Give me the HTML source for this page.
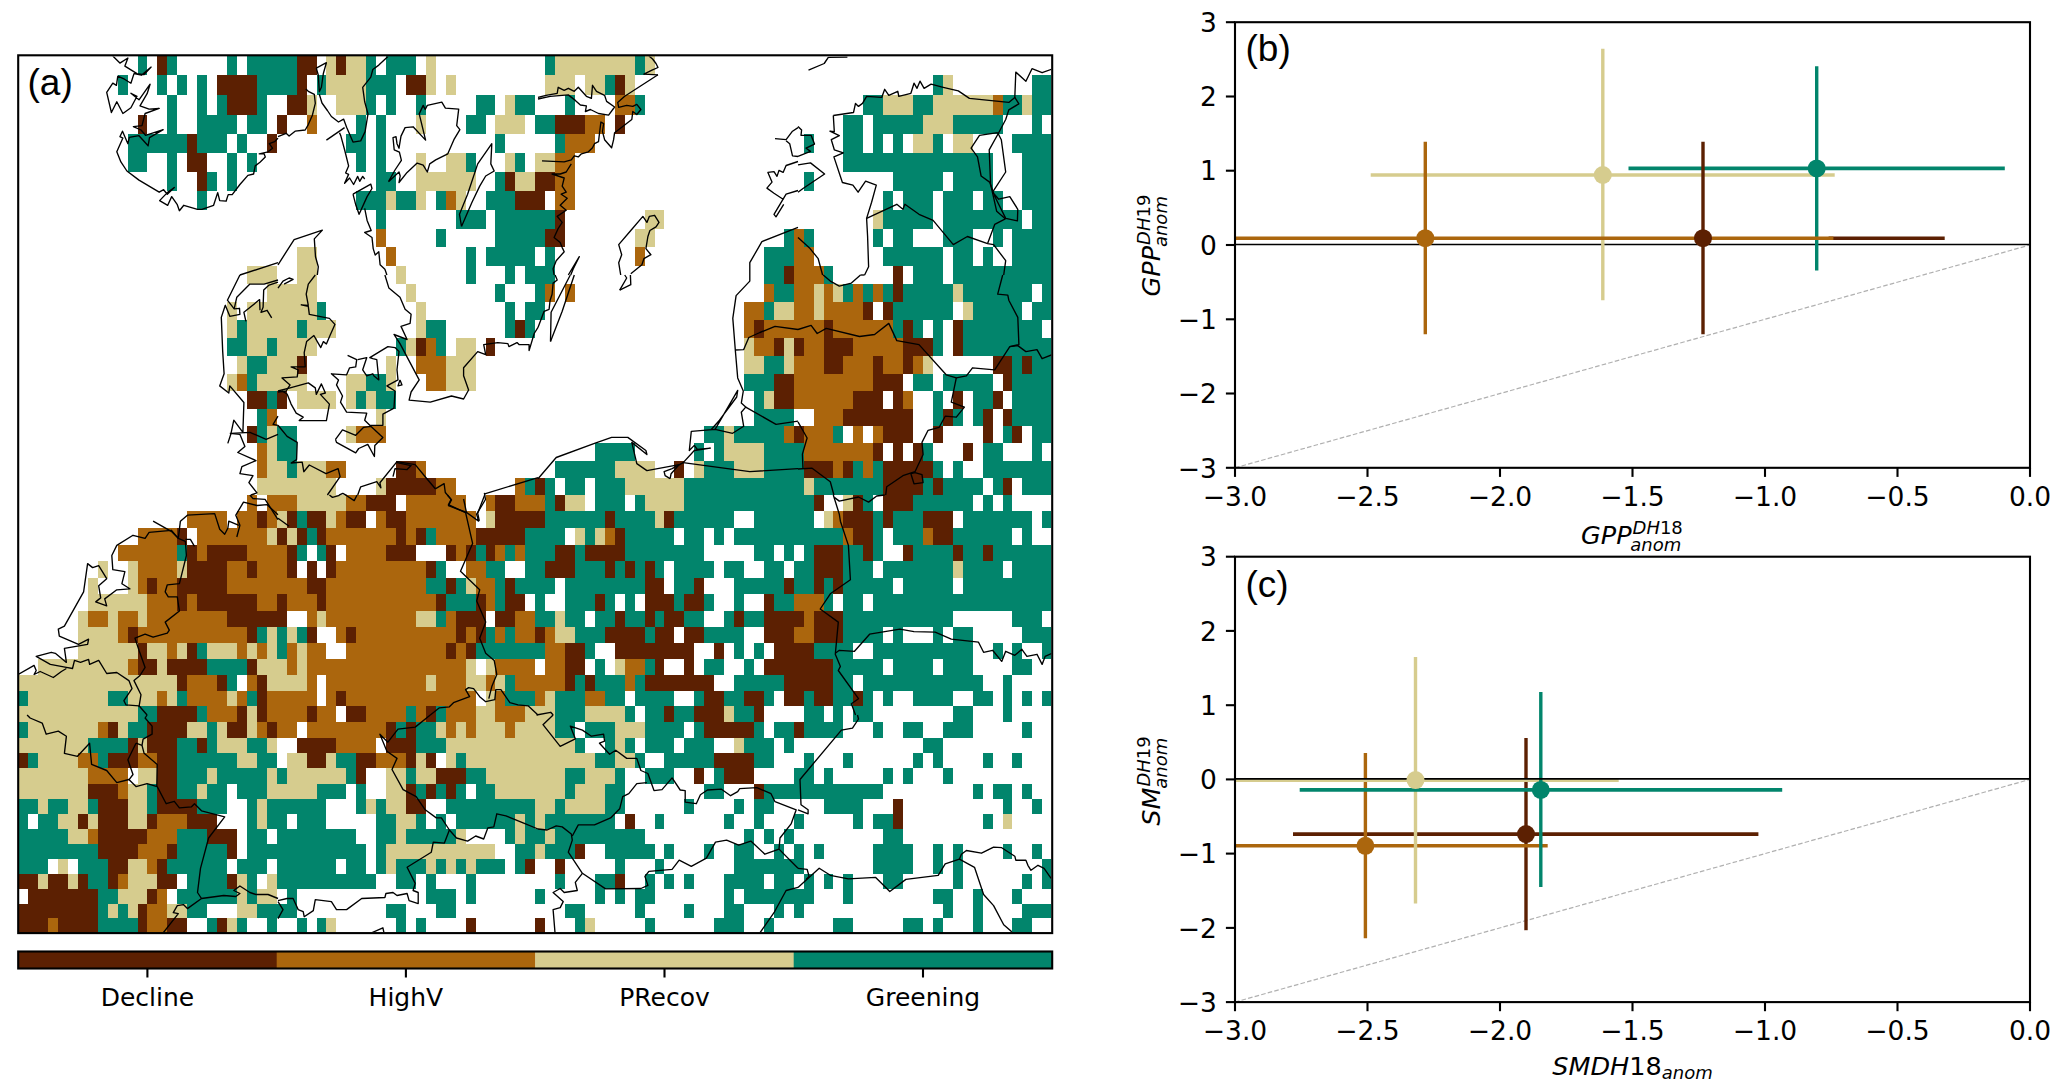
<!DOCTYPE html><html><head><meta charset="utf-8"><style>html,body{margin:0;padding:0;background:#fff;}svg{display:block}text{font-family:"DejaVu Sans",sans-serif;}</style></head><body>
<svg width="2067" height="1091" viewBox="0 0 2067 1091">
<rect width="100%" height="100%" fill="#fff"/>
<g shape-rendering="crispEdges">
<path fill="#5c2002" d="M157.4 55.5H167.3V75.3H157.4ZM296.6 55.5H316.5V75.3H296.6ZM336.3 55.5H346.3V75.3H336.3ZM217.0 75.3H256.8V94.9H217.0ZM296.6 75.3H306.5V94.9H296.6ZM405.9 75.3H425.8V94.9H405.9ZM614.7 75.3H624.7V94.9H614.7ZM227.0 94.9H256.8V114.5H227.0ZM286.6 94.9H306.5V114.5H286.6ZM137.5 114.5H147.4V133.8H137.5ZM276.7 114.5H286.6V133.8H276.7ZM555.1 114.5H584.9V133.8H555.1ZM614.7 114.5H624.7V133.8H614.7ZM187.2 133.8H197.2V153.0H187.2ZM266.8 133.8H276.7V153.0H266.8ZM187.2 153.0H207.1V172.1H187.2ZM197.2 172.1H207.1V191.1H197.2ZM505.4 172.1H515.3V191.1H505.4ZM535.2 172.1H555.1V191.1H535.2ZM515.3 191.1H545.1V209.9H515.3ZM555.1 209.9H565.0V228.6H555.1ZM545.1 228.6H565.0V247.1H545.1ZM783.7 265.6H793.7V283.9H783.7ZM893.1 265.6H903.0V283.9H893.1ZM893.1 283.9H903.0V302.1H893.1ZM863.3 302.1H873.2V320.1H863.3ZM883.2 302.1H893.1V320.1H883.2ZM515.3 320.1H525.2V338.1H515.3ZM753.9 320.1H763.9V338.1H753.9ZM823.5 320.1H833.4V338.1H823.5ZM903.0 320.1H913.0V338.1H903.0ZM952.7 320.1H962.7V338.1H952.7ZM415.9 338.1H425.8V355.9H415.9ZM485.5 338.1H495.4V355.9H485.5ZM773.8 338.1H783.7V355.9H773.8ZM793.7 338.1H803.6V355.9H793.7ZM823.5 338.1H853.3V355.9H823.5ZM903.0 338.1H932.9V355.9H903.0ZM952.7 338.1H962.7V355.9H952.7ZM296.6 355.9H306.5V373.6H296.6ZM823.5 355.9H843.4V373.6H823.5ZM873.2 355.9H883.2V373.6H873.2ZM903.0 355.9H913.0V373.6H903.0ZM992.5 355.9H1012.4V373.6H992.5ZM1022.3 355.9H1032.3V373.6H1022.3ZM773.8 373.6H793.7V391.2H773.8ZM873.2 373.6H903.0V391.2H873.2ZM1002.5 373.6H1012.4V391.2H1002.5ZM246.9 391.2H266.8V408.7H246.9ZM276.7 391.2H286.6V408.7H276.7ZM773.8 391.2H793.7V408.7H773.8ZM853.3 391.2H883.2V408.7H853.3ZM893.1 391.2H903.0V408.7H893.1ZM952.7 391.2H962.7V408.7H952.7ZM992.5 391.2H1002.5V408.7H992.5ZM843.4 408.7H913.0V426.1H843.4ZM942.8 408.7H952.7V426.1H942.8ZM982.6 408.7H992.5V426.1H982.6ZM1002.5 408.7H1012.4V426.1H1002.5ZM246.9 426.1H256.8V443.3H246.9ZM793.7 426.1H803.6V443.3H793.7ZM883.2 426.1H913.0V443.3H883.2ZM932.9 426.1H942.8V443.3H932.9ZM982.6 426.1H992.5V443.3H982.6ZM1012.4 426.1H1022.3V443.3H1012.4ZM873.2 443.3H883.2V460.5H873.2ZM893.1 443.3H903.0V460.5H893.1ZM913.0 443.3H922.9V460.5H913.0ZM962.7 443.3H972.6V460.5H962.7ZM396.0 460.5H415.9V477.6H396.0ZM674.4 460.5H684.3V477.6H674.4ZM803.6 460.5H833.4V477.6H803.6ZM843.4 460.5H853.3V477.6H843.4ZM883.2 460.5H932.9V477.6H883.2ZM386.1 477.6H435.8V494.5H386.1ZM535.2 477.6H545.1V494.5H535.2ZM883.2 477.6H922.9V494.5H883.2ZM932.9 477.6H942.8V494.5H932.9ZM1002.5 477.6H1012.4V494.5H1002.5ZM366.2 494.5H396.0V511.4H366.2ZM495.4 494.5H515.3V511.4H495.4ZM555.1 494.5H565.0V511.4H555.1ZM813.6 494.5H823.5V511.4H813.6ZM853.3 494.5H863.3V511.4H853.3ZM883.2 494.5H913.0V511.4H883.2ZM256.8 511.4H266.8V528.1H256.8ZM286.6 511.4H296.6V528.1H286.6ZM306.5 511.4H326.4V528.1H306.5ZM346.3 511.4H366.2V528.1H346.3ZM386.1 511.4H405.9V528.1H386.1ZM495.4 511.4H545.1V528.1H495.4ZM604.8 511.4H614.7V528.1H604.8ZM664.4 511.4H674.4V528.1H664.4ZM843.4 511.4H873.2V528.1H843.4ZM883.2 511.4H893.1V528.1H883.2ZM922.9 511.4H952.7V528.1H922.9ZM177.3 528.1H187.2V544.8H177.3ZM276.7 528.1H286.6V544.8H276.7ZM296.6 528.1H306.5V544.8H296.6ZM316.5 528.1H326.4V544.8H316.5ZM396.0 528.1H405.9V544.8H396.0ZM415.9 528.1H425.8V544.8H415.9ZM475.5 528.1H525.2V544.8H475.5ZM614.7 528.1H624.7V544.8H614.7ZM853.3 528.1H873.2V544.8H853.3ZM932.9 528.1H952.7V544.8H932.9ZM187.2 544.8H197.2V561.3H187.2ZM207.1 544.8H246.9V561.3H207.1ZM286.6 544.8H296.6V561.3H286.6ZM326.4 544.8H336.3V561.3H326.4ZM386.1 544.8H415.9V561.3H386.1ZM445.7 544.8H455.6V561.3H445.7ZM465.6 544.8H475.5V561.3H465.6ZM485.5 544.8H495.4V561.3H485.5ZM555.1 544.8H575.0V561.3H555.1ZM584.9 544.8H624.7V561.3H584.9ZM813.6 544.8H843.4V561.3H813.6ZM863.3 544.8H873.2V561.3H863.3ZM903.0 544.8H913.0V561.3H903.0ZM952.7 544.8H962.7V561.3H952.7ZM982.6 544.8H992.5V561.3H982.6ZM187.2 561.3H227.0V577.8H187.2ZM246.9 561.3H256.8V577.8H246.9ZM286.6 561.3H296.6V577.8H286.6ZM306.5 561.3H316.5V577.8H306.5ZM326.4 561.3H336.3V577.8H326.4ZM425.8 561.3H435.8V577.8H425.8ZM545.1 561.3H575.0V577.8H545.1ZM604.8 561.3H614.7V577.8H604.8ZM624.7 561.3H634.6V577.8H624.7ZM644.5 561.3H654.5V577.8H644.5ZM813.6 561.3H843.4V577.8H813.6ZM147.4 577.8H157.4V594.2H147.4ZM177.3 577.8H227.0V594.2H177.3ZM306.5 577.8H326.4V594.2H306.5ZM445.7 577.8H455.6V594.2H445.7ZM505.4 577.8H515.3V594.2H505.4ZM644.5 577.8H664.4V594.2H644.5ZM694.3 577.8H704.2V594.2H694.3ZM783.7 577.8H793.7V594.2H783.7ZM813.6 577.8H823.5V594.2H813.6ZM833.4 577.8H843.4V594.2H833.4ZM177.3 594.2H187.2V610.5H177.3ZM197.2 594.2H256.8V610.5H197.2ZM276.7 594.2H286.6V610.5H276.7ZM316.5 594.2H326.4V610.5H316.5ZM435.8 594.2H445.7V610.5H435.8ZM475.5 594.2H485.5V610.5H475.5ZM505.4 594.2H525.2V610.5H505.4ZM594.8 594.2H604.8V610.5H594.8ZM644.5 594.2H674.4V610.5H644.5ZM684.3 594.2H704.2V610.5H684.3ZM763.9 594.2H773.8V610.5H763.9ZM227.0 610.5H286.6V626.6H227.0ZM455.6 610.5H485.5V626.6H455.6ZM495.4 610.5H515.3V626.6H495.4ZM614.7 610.5H624.7V626.6H614.7ZM644.5 610.5H654.5V626.6H644.5ZM664.4 610.5H684.3V626.6H664.4ZM734.0 610.5H744.0V626.6H734.0ZM763.9 610.5H803.6V626.6H763.9ZM813.6 610.5H843.4V626.6H813.6ZM127.6 626.6H137.5V642.7H127.6ZM246.9 626.6H256.8V642.7H246.9ZM306.5 626.6H316.5V642.7H306.5ZM346.3 626.6H356.2V642.7H346.3ZM455.6 626.6H465.6V642.7H455.6ZM475.5 626.6H485.5V642.7H475.5ZM535.2 626.6H545.1V642.7H535.2ZM604.8 626.6H644.5V642.7H604.8ZM654.5 626.6H674.4V642.7H654.5ZM684.3 626.6H704.2V642.7H684.3ZM763.9 626.6H793.7V642.7H763.9ZM813.6 626.6H843.4V642.7H813.6ZM137.5 642.7H147.4V658.7H137.5ZM187.2 642.7H197.2V658.7H187.2ZM445.7 642.7H455.6V658.7H445.7ZM465.6 642.7H475.5V658.7H465.6ZM565.0 642.7H584.9V658.7H565.0ZM614.7 642.7H694.3V658.7H614.7ZM714.1 642.7H724.1V658.7H714.1ZM773.8 642.7H813.6V658.7H773.8ZM137.5 658.7H157.4V674.7H137.5ZM167.3 658.7H207.1V674.7H167.3ZM246.9 658.7H256.8V674.7H246.9ZM565.0 658.7H584.9V674.7H565.0ZM654.5 658.7H664.4V674.7H654.5ZM684.3 658.7H694.3V674.7H684.3ZM763.9 658.7H833.4V674.7H763.9ZM177.3 674.7H187.2V690.5H177.3ZM217.0 674.7H227.0V690.5H217.0ZM256.8 674.7H266.8V690.5H256.8ZM565.0 674.7H575.0V690.5H565.0ZM584.9 674.7H594.8V690.5H584.9ZM644.5 674.7H714.1V690.5H644.5ZM783.7 674.7H833.4V690.5H783.7ZM256.8 690.5H266.8V706.2H256.8ZM336.3 690.5H346.3V706.2H336.3ZM704.2 690.5H724.1V706.2H704.2ZM744.0 690.5H763.9V706.2H744.0ZM783.7 690.5H803.6V706.2H783.7ZM813.6 690.5H833.4V706.2H813.6ZM853.3 690.5H863.3V706.2H853.3ZM157.4 706.2H197.2V721.9H157.4ZM236.9 706.2H246.9V721.9H236.9ZM256.8 706.2H266.8V721.9H256.8ZM306.5 706.2H316.5V721.9H306.5ZM346.3 706.2H366.2V721.9H346.3ZM425.8 706.2H435.8V721.9H425.8ZM664.4 706.2H674.4V721.9H664.4ZM694.3 706.2H724.1V721.9H694.3ZM753.9 706.2H763.9V721.9H753.9ZM107.7 721.9H117.6V737.5H107.7ZM147.4 721.9H187.2V737.5H147.4ZM227.0 721.9H246.9V737.5H227.0ZM266.8 721.9H276.7V737.5H266.8ZM386.1 721.9H396.0V737.5H386.1ZM405.9 721.9H415.9V737.5H405.9ZM704.2 721.9H753.9V737.5H704.2ZM793.7 721.9H803.6V737.5H793.7ZM127.6 737.5H137.5V753.0H127.6ZM147.4 737.5H177.3V753.0H147.4ZM197.2 737.5H207.1V753.0H197.2ZM296.6 737.5H336.3V753.0H296.6ZM386.1 737.5H415.9V753.0H386.1ZM19.0 753.0H28.1V768.4H19.0ZM107.7 753.0H137.5V768.4H107.7ZM157.4 753.0H177.3V768.4H157.4ZM306.5 753.0H326.4V768.4H306.5ZM356.2 753.0H376.1V768.4H356.2ZM405.9 753.0H415.9V768.4H405.9ZM425.8 753.0H435.8V768.4H425.8ZM714.1 753.0H753.9V768.4H714.1ZM157.4 768.4H177.3V783.7H157.4ZM356.2 768.4H366.2V783.7H356.2ZM435.8 768.4H465.6V783.7H435.8ZM694.3 768.4H704.2V783.7H694.3ZM724.1 768.4H753.9V783.7H724.1ZM87.8 783.7H117.6V799.0H87.8ZM157.4 783.7H177.3V799.0H157.4ZM405.9 783.7H415.9V799.0H405.9ZM425.8 783.7H435.8V799.0H425.8ZM445.7 783.7H455.6V799.0H445.7ZM753.9 783.7H763.9V799.0H753.9ZM97.7 799.0H127.6V814.2H97.7ZM157.4 799.0H197.2V814.2H157.4ZM405.9 799.0H425.8V814.2H405.9ZM893.1 799.0H903.0V814.2H893.1ZM77.9 814.2H87.8V829.3H77.9ZM97.7 814.2H127.6V829.3H97.7ZM147.4 814.2H157.4V829.3H147.4ZM187.2 814.2H217.0V829.3H187.2ZM624.7 814.2H634.6V829.3H624.7ZM893.1 814.2H903.0V829.3H893.1ZM97.7 829.3H147.4V844.3H97.7ZM207.1 829.3H236.9V844.3H207.1ZM97.7 844.3H137.5V859.3H97.7ZM167.3 844.3H177.3V859.3H167.3ZM227.0 844.3H236.9V859.3H227.0ZM575.0 844.3H584.9V859.3H575.0ZM107.7 859.3H127.6V874.2H107.7ZM157.4 859.3H167.3V874.2H157.4ZM525.2 859.3H535.2V874.2H525.2ZM555.1 859.3H565.0V874.2H555.1ZM19.0 874.2H38.1V889.0H19.0ZM48.0 874.2H67.9V889.0H48.0ZM77.9 874.2H87.8V889.0H77.9ZM107.7 874.2H117.6V889.0H107.7ZM157.4 874.2H177.3V889.0H157.4ZM227.0 874.2H236.9V889.0H227.0ZM614.7 874.2H624.7V889.0H614.7ZM28.1 889.0H97.7V903.7H28.1ZM147.4 889.0H157.4V903.7H147.4ZM19.0 903.7H97.7V918.4H19.0ZM137.5 903.7H147.4V918.4H137.5ZM19.0 918.4H48.0V933.0H19.0ZM58.0 918.4H97.7V933.0H58.0ZM137.5 918.4H147.4V933.0H137.5ZM167.3 918.4H187.2V933.0H167.3ZM217.0 918.4H227.0V933.0H217.0ZM465.6 918.4H475.5V933.0H465.6ZM535.2 918.4H545.1V933.0H535.2Z"/>
<path fill="#ab660d" d="M614.7 94.9H634.6V114.5H614.7ZM992.5 94.9H1002.5V114.5H992.5ZM306.5 114.5H316.5V133.8H306.5ZM584.9 114.5H604.8V133.8H584.9ZM565.0 133.8H594.8V153.0H565.0ZM555.1 153.0H575.0V172.1H555.1ZM555.1 172.1H575.0V191.1H555.1ZM445.7 191.1H455.6V209.9H445.7ZM555.1 191.1H575.0V209.9H555.1ZM376.1 228.6H386.1V247.1H376.1ZM793.7 228.6H803.6V247.1H793.7ZM386.1 247.1H396.0V265.6H386.1ZM634.6 247.1H644.5V265.6H634.6ZM793.7 247.1H813.6V265.6H793.7ZM793.7 265.6H823.5V283.9H793.7ZM545.1 283.9H555.1V302.1H545.1ZM565.0 283.9H575.0V302.1H565.0ZM763.9 283.9H773.8V302.1H763.9ZM793.7 283.9H813.6V302.1H793.7ZM823.5 283.9H833.4V302.1H823.5ZM853.3 283.9H863.3V302.1H853.3ZM873.2 283.9H883.2V302.1H873.2ZM744.0 302.1H763.9V320.1H744.0ZM793.7 302.1H813.6V320.1H793.7ZM823.5 302.1H863.3V320.1H823.5ZM744.0 320.1H753.9V338.1H744.0ZM763.9 320.1H823.5V338.1H763.9ZM833.4 320.1H893.1V338.1H833.4ZM425.8 338.1H435.8V355.9H425.8ZM753.9 338.1H773.8V355.9H753.9ZM803.6 338.1H823.5V355.9H803.6ZM853.3 338.1H903.0V355.9H853.3ZM415.9 355.9H445.7V373.6H415.9ZM793.7 355.9H823.5V373.6H793.7ZM843.4 355.9H873.2V373.6H843.4ZM883.2 355.9H903.0V373.6H883.2ZM913.0 355.9H922.9V373.6H913.0ZM236.9 373.6H246.9V391.2H236.9ZM425.8 373.6H445.7V391.2H425.8ZM793.7 373.6H873.2V391.2H793.7ZM793.7 391.2H853.3V408.7H793.7ZM903.0 391.2H913.0V408.7H903.0ZM266.8 408.7H276.7V426.1H266.8ZM813.6 408.7H843.4V426.1H813.6ZM356.2 426.1H386.1V443.3H356.2ZM783.7 426.1H793.7V443.3H783.7ZM803.6 426.1H833.4V443.3H803.6ZM853.3 426.1H863.3V443.3H853.3ZM873.2 426.1H883.2V443.3H873.2ZM256.8 443.3H266.8V460.5H256.8ZM803.6 443.3H873.2V460.5H803.6ZM256.8 460.5H266.8V477.6H256.8ZM326.4 460.5H346.3V477.6H326.4ZM415.9 460.5H425.8V477.6H415.9ZM833.4 460.5H843.4V477.6H833.4ZM863.3 460.5H873.2V477.6H863.3ZM435.8 477.6H455.6V494.5H435.8ZM515.3 477.6H525.2V494.5H515.3ZM246.9 494.5H256.8V511.4H246.9ZM266.8 494.5H296.6V511.4H266.8ZM346.3 494.5H366.2V511.4H346.3ZM405.9 494.5H465.6V511.4H405.9ZM485.5 494.5H495.4V511.4H485.5ZM515.3 494.5H545.1V511.4H515.3ZM187.2 511.4H227.0V528.1H187.2ZM236.9 511.4H256.8V528.1H236.9ZM266.8 511.4H276.7V528.1H266.8ZM336.3 511.4H346.3V528.1H336.3ZM376.1 511.4H386.1V528.1H376.1ZM405.9 511.4H475.5V528.1H405.9ZM833.4 511.4H843.4V528.1H833.4ZM137.5 528.1H177.3V544.8H137.5ZM197.2 528.1H266.8V544.8H197.2ZM326.4 528.1H396.0V544.8H326.4ZM405.9 528.1H415.9V544.8H405.9ZM435.8 528.1H475.5V544.8H435.8ZM604.8 528.1H614.7V544.8H604.8ZM843.4 528.1H853.3V544.8H843.4ZM922.9 528.1H932.9V544.8H922.9ZM117.6 544.8H177.3V561.3H117.6ZM197.2 544.8H207.1V561.3H197.2ZM246.9 544.8H286.6V561.3H246.9ZM346.3 544.8H386.1V561.3H346.3ZM455.6 544.8H465.6V561.3H455.6ZM495.4 544.8H505.4V561.3H495.4ZM515.3 544.8H525.2V561.3H515.3ZM137.5 561.3H177.3V577.8H137.5ZM227.0 561.3H246.9V577.8H227.0ZM256.8 561.3H286.6V577.8H256.8ZM336.3 561.3H425.8V577.8H336.3ZM465.6 561.3H485.5V577.8H465.6ZM137.5 577.8H147.4V594.2H137.5ZM157.4 577.8H177.3V594.2H157.4ZM227.0 577.8H306.5V594.2H227.0ZM326.4 577.8H425.8V594.2H326.4ZM475.5 577.8H495.4V594.2H475.5ZM147.4 594.2H177.3V610.5H147.4ZM187.2 594.2H197.2V610.5H187.2ZM256.8 594.2H276.7V610.5H256.8ZM286.6 594.2H316.5V610.5H286.6ZM326.4 594.2H435.8V610.5H326.4ZM485.5 594.2H495.4V610.5H485.5ZM793.7 594.2H823.5V610.5H793.7ZM87.8 610.5H107.7V626.6H87.8ZM117.6 610.5H137.5V626.6H117.6ZM147.4 610.5H227.0V626.6H147.4ZM306.5 610.5H316.5V626.6H306.5ZM326.4 610.5H415.9V626.6H326.4ZM445.7 610.5H455.6V626.6H445.7ZM515.3 610.5H535.2V626.6H515.3ZM803.6 610.5H813.6V626.6H803.6ZM117.6 626.6H127.6V642.7H117.6ZM137.5 626.6H246.9V642.7H137.5ZM336.3 626.6H346.3V642.7H336.3ZM356.2 626.6H455.6V642.7H356.2ZM465.6 626.6H475.5V642.7H465.6ZM495.4 626.6H505.4V642.7H495.4ZM515.3 626.6H535.2V642.7H515.3ZM545.1 626.6H555.1V642.7H545.1ZM793.7 626.6H813.6V642.7H793.7ZM167.3 642.7H177.3V658.7H167.3ZM236.9 642.7H246.9V658.7H236.9ZM256.8 642.7H266.8V658.7H256.8ZM286.6 642.7H296.6V658.7H286.6ZM306.5 642.7H326.4V658.7H306.5ZM346.3 642.7H445.7V658.7H346.3ZM455.6 642.7H465.6V658.7H455.6ZM545.1 642.7H565.0V658.7H545.1ZM127.6 658.7H137.5V674.7H127.6ZM286.6 658.7H296.6V674.7H286.6ZM306.5 658.7H465.6V674.7H306.5ZM495.4 658.7H535.2V674.7H495.4ZM545.1 658.7H565.0V674.7H545.1ZM624.7 658.7H644.5V674.7H624.7ZM187.2 674.7H217.0V690.5H187.2ZM246.9 674.7H256.8V690.5H246.9ZM306.5 674.7H316.5V690.5H306.5ZM326.4 674.7H425.8V690.5H326.4ZM435.8 674.7H465.6V690.5H435.8ZM485.5 674.7H495.4V690.5H485.5ZM515.3 674.7H565.0V690.5H515.3ZM624.7 674.7H634.6V690.5H624.7ZM157.4 690.5H167.3V706.2H157.4ZM187.2 690.5H227.0V706.2H187.2ZM236.9 690.5H246.9V706.2H236.9ZM266.8 690.5H316.5V706.2H266.8ZM326.4 690.5H336.3V706.2H326.4ZM346.3 690.5H475.5V706.2H346.3ZM495.4 690.5H505.4V706.2H495.4ZM535.2 690.5H545.1V706.2H535.2ZM584.9 690.5H604.8V706.2H584.9ZM207.1 706.2H236.9V721.9H207.1ZM266.8 706.2H306.5V721.9H266.8ZM316.5 706.2H336.3V721.9H316.5ZM366.2 706.2H405.9V721.9H366.2ZM415.9 706.2H425.8V721.9H415.9ZM445.7 706.2H475.5V721.9H445.7ZM495.4 706.2H525.2V721.9H495.4ZM97.7 721.9H107.7V737.5H97.7ZM256.8 721.9H266.8V737.5H256.8ZM276.7 721.9H296.6V737.5H276.7ZM306.5 721.9H386.1V737.5H306.5ZM445.7 721.9H455.6V737.5H445.7ZM465.6 721.9H475.5V737.5H465.6ZM505.4 721.9H515.3V737.5H505.4ZM336.3 737.5H376.1V753.0H336.3ZM77.9 753.0H97.7V768.4H77.9ZM137.5 753.0H157.4V768.4H137.5ZM376.1 753.0H405.9V768.4H376.1ZM87.8 768.4H127.6V783.7H87.8ZM117.6 783.7H127.6V799.0H117.6ZM157.4 814.2H187.2V829.3H157.4ZM87.8 829.3H97.7V844.3H87.8ZM147.4 829.3H177.3V844.3H147.4ZM137.5 844.3H167.3V859.3H137.5ZM147.4 859.3H157.4V874.2H147.4ZM117.6 874.2H127.6V889.0H117.6ZM157.4 889.0H167.3V903.7H157.4ZM147.4 903.7H167.3V918.4H147.4ZM48.0 918.4H58.0V933.0H48.0ZM147.4 918.4H167.3V933.0H147.4Z"/>
<path fill="#d6cc8e" d="M326.4 55.5H336.3V75.3H326.4ZM346.3 55.5H366.2V75.3H346.3ZM425.8 55.5H435.8V75.3H425.8ZM555.1 55.5H634.6V75.3H555.1ZM644.5 55.5H654.5V75.3H644.5ZM326.4 75.3H366.2V94.9H326.4ZM425.8 75.3H435.8V94.9H425.8ZM445.7 75.3H455.6V94.9H445.7ZM545.1 75.3H575.0V94.9H545.1ZM584.9 75.3H604.8V94.9H584.9ZM624.7 75.3H634.6V94.9H624.7ZM942.8 75.3H952.7V94.9H942.8ZM306.5 94.9H316.5V114.5H306.5ZM336.3 94.9H366.2V114.5H336.3ZM505.4 94.9H515.3V114.5H505.4ZM883.2 94.9H913.0V114.5H883.2ZM932.9 94.9H992.5V114.5H932.9ZM1022.3 94.9H1032.3V114.5H1022.3ZM415.9 114.5H425.8V133.8H415.9ZM495.4 114.5H525.2V133.8H495.4ZM922.9 114.5H952.7V133.8H922.9ZM913.0 133.8H932.9V153.0H913.0ZM952.7 133.8H972.6V153.0H952.7ZM415.9 153.0H425.8V172.1H415.9ZM445.7 153.0H465.6V172.1H445.7ZM505.4 153.0H515.3V172.1H505.4ZM535.2 153.0H555.1V172.1H535.2ZM415.9 172.1H475.5V191.1H415.9ZM515.3 172.1H535.2V191.1H515.3ZM386.1 191.1H396.0V209.9H386.1ZM415.9 191.1H425.8V209.9H415.9ZM455.6 191.1H465.6V209.9H455.6ZM644.5 209.9H664.4V228.6H644.5ZM873.2 209.9H883.2V228.6H873.2ZM634.6 228.6H654.5V247.1H634.6ZM296.6 247.1H316.5V265.6H296.6ZM246.9 265.6H276.7V283.9H246.9ZM296.6 265.6H316.5V283.9H296.6ZM396.0 265.6H405.9V283.9H396.0ZM266.8 283.9H316.5V302.1H266.8ZM405.9 283.9H415.9V302.1H405.9ZM813.6 283.9H823.5V302.1H813.6ZM833.4 283.9H843.4V302.1H833.4ZM952.7 283.9H962.7V302.1H952.7ZM227.0 302.1H236.9V320.1H227.0ZM246.9 302.1H316.5V320.1H246.9ZM415.9 302.1H425.8V320.1H415.9ZM773.8 302.1H793.7V320.1H773.8ZM813.6 302.1H823.5V320.1H813.6ZM962.7 302.1H972.6V320.1H962.7ZM227.0 320.1H236.9V338.1H227.0ZM246.9 320.1H296.6V338.1H246.9ZM306.5 320.1H336.3V338.1H306.5ZM415.9 320.1H425.8V338.1H415.9ZM246.9 338.1H266.8V355.9H246.9ZM276.7 338.1H316.5V355.9H276.7ZM405.9 338.1H415.9V355.9H405.9ZM455.6 338.1H475.5V355.9H455.6ZM744.0 338.1H753.9V355.9H744.0ZM783.7 338.1H793.7V355.9H783.7ZM236.9 355.9H246.9V373.6H236.9ZM266.8 355.9H296.6V373.6H266.8ZM386.1 355.9H396.0V373.6H386.1ZM445.7 355.9H475.5V373.6H445.7ZM744.0 355.9H763.9V373.6H744.0ZM783.7 355.9H793.7V373.6H783.7ZM922.9 355.9H932.9V373.6H922.9ZM227.0 373.6H236.9V391.2H227.0ZM256.8 373.6H306.5V391.2H256.8ZM346.3 373.6H366.2V391.2H346.3ZM386.1 373.6H396.0V391.2H386.1ZM445.7 373.6H475.5V391.2H445.7ZM296.6 391.2H336.3V408.7H296.6ZM346.3 391.2H356.2V408.7H346.3ZM366.2 391.2H376.1V408.7H366.2ZM763.9 391.2H773.8V408.7H763.9ZM376.1 408.7H386.1V426.1H376.1ZM266.8 426.1H276.7V443.3H266.8ZM346.3 426.1H356.2V443.3H346.3ZM724.1 426.1H734.0V443.3H724.1ZM266.8 443.3H276.7V460.5H266.8ZM724.1 443.3H763.9V460.5H724.1ZM266.8 460.5H286.6V477.6H266.8ZM296.6 460.5H326.4V477.6H296.6ZM614.7 460.5H654.5V477.6H614.7ZM694.3 460.5H704.2V477.6H694.3ZM734.0 460.5H763.9V477.6H734.0ZM256.8 477.6H336.3V494.5H256.8ZM376.1 477.6H386.1V494.5H376.1ZM624.7 477.6H684.3V494.5H624.7ZM803.6 477.6H813.6V494.5H803.6ZM296.6 494.5H346.3V511.4H296.6ZM565.0 494.5H584.9V511.4H565.0ZM644.5 494.5H684.3V511.4H644.5ZM843.4 494.5H853.3V511.4H843.4ZM276.7 511.4H286.6V528.1H276.7ZM326.4 511.4H336.3V528.1H326.4ZM485.5 511.4H495.4V528.1H485.5ZM654.5 511.4H664.4V528.1H654.5ZM823.5 511.4H833.4V528.1H823.5ZM266.8 528.1H276.7V544.8H266.8ZM286.6 528.1H296.6V544.8H286.6ZM575.0 528.1H584.9V544.8H575.0ZM594.8 528.1H604.8V544.8H594.8ZM97.7 561.3H107.7V577.8H97.7ZM127.6 561.3H137.5V577.8H127.6ZM177.3 561.3H187.2V577.8H177.3ZM952.7 561.3H962.7V577.8H952.7ZM87.8 577.8H97.7V594.2H87.8ZM127.6 577.8H137.5V594.2H127.6ZM465.6 577.8H475.5V594.2H465.6ZM87.8 594.2H147.4V610.5H87.8ZM77.9 610.5H87.8V626.6H77.9ZM107.7 610.5H117.6V626.6H107.7ZM137.5 610.5H147.4V626.6H137.5ZM316.5 610.5H326.4V626.6H316.5ZM415.9 610.5H435.8V626.6H415.9ZM555.1 610.5H565.0V626.6H555.1ZM77.9 626.6H117.6V642.7H77.9ZM266.8 626.6H276.7V642.7H266.8ZM286.6 626.6H296.6V642.7H286.6ZM555.1 626.6H575.0V642.7H555.1ZM77.9 642.7H137.5V658.7H77.9ZM147.4 642.7H167.3V658.7H147.4ZM177.3 642.7H187.2V658.7H177.3ZM207.1 642.7H236.9V658.7H207.1ZM246.9 642.7H256.8V658.7H246.9ZM266.8 642.7H276.7V658.7H266.8ZM296.6 642.7H306.5V658.7H296.6ZM38.1 658.7H127.6V674.7H38.1ZM157.4 658.7H167.3V674.7H157.4ZM256.8 658.7H286.6V674.7H256.8ZM296.6 658.7H306.5V674.7H296.6ZM465.6 658.7H475.5V674.7H465.6ZM485.5 658.7H495.4V674.7H485.5ZM614.7 658.7H624.7V674.7H614.7ZM19.0 674.7H177.3V690.5H19.0ZM266.8 674.7H306.5V690.5H266.8ZM425.8 674.7H435.8V690.5H425.8ZM465.6 674.7H485.5V690.5H465.6ZM495.4 674.7H505.4V690.5H495.4ZM28.1 690.5H107.7V706.2H28.1ZM127.6 690.5H157.4V706.2H127.6ZM167.3 690.5H177.3V706.2H167.3ZM227.0 690.5H236.9V706.2H227.0ZM485.5 690.5H495.4V706.2H485.5ZM545.1 690.5H555.1V706.2H545.1ZM19.0 706.2H137.5V721.9H19.0ZM246.9 706.2H256.8V721.9H246.9ZM475.5 706.2H495.4V721.9H475.5ZM525.2 706.2H555.1V721.9H525.2ZM584.9 706.2H624.7V721.9H584.9ZM724.1 706.2H734.0V721.9H724.1ZM28.1 721.9H97.7V737.5H28.1ZM117.6 721.9H127.6V737.5H117.6ZM187.2 721.9H207.1V737.5H187.2ZM217.0 721.9H227.0V737.5H217.0ZM246.9 721.9H256.8V737.5H246.9ZM435.8 721.9H445.7V737.5H435.8ZM455.6 721.9H465.6V737.5H455.6ZM475.5 721.9H505.4V737.5H475.5ZM515.3 721.9H555.1V737.5H515.3ZM614.7 721.9H644.5V737.5H614.7ZM19.0 737.5H87.8V753.0H19.0ZM137.5 737.5H147.4V753.0H137.5ZM217.0 737.5H246.9V753.0H217.0ZM266.8 737.5H276.7V753.0H266.8ZM445.7 737.5H575.0V753.0H445.7ZM614.7 737.5H624.7V753.0H614.7ZM734.0 737.5H744.0V753.0H734.0ZM38.1 753.0H77.9V768.4H38.1ZM236.9 753.0H256.8V768.4H236.9ZM286.6 753.0H306.5V768.4H286.6ZM326.4 753.0H336.3V768.4H326.4ZM415.9 753.0H425.8V768.4H415.9ZM445.7 753.0H455.6V768.4H445.7ZM465.6 753.0H594.8V768.4H465.6ZM614.7 753.0H634.6V768.4H614.7ZM19.0 768.4H87.8V783.7H19.0ZM137.5 768.4H157.4V783.7H137.5ZM207.1 768.4H217.0V783.7H207.1ZM266.8 768.4H276.7V783.7H266.8ZM286.6 768.4H346.3V783.7H286.6ZM386.1 768.4H405.9V783.7H386.1ZM415.9 768.4H435.8V783.7H415.9ZM485.5 768.4H565.0V783.7H485.5ZM584.9 768.4H614.7V783.7H584.9ZM19.0 783.7H87.8V799.0H19.0ZM127.6 783.7H147.4V799.0H127.6ZM197.2 783.7H207.1V799.0H197.2ZM266.8 783.7H316.5V799.0H266.8ZM386.1 783.7H405.9V799.0H386.1ZM495.4 783.7H565.0V799.0H495.4ZM575.0 783.7H604.8V799.0H575.0ZM38.1 799.0H48.0V814.2H38.1ZM67.9 799.0H87.8V814.2H67.9ZM127.6 799.0H147.4V814.2H127.6ZM256.8 799.0H266.8V814.2H256.8ZM366.2 799.0H376.1V814.2H366.2ZM386.1 799.0H405.9V814.2H386.1ZM535.2 799.0H555.1V814.2H535.2ZM565.0 799.0H604.8V814.2H565.0ZM58.0 814.2H77.9V829.3H58.0ZM87.8 814.2H97.7V829.3H87.8ZM127.6 814.2H147.4V829.3H127.6ZM256.8 814.2H266.8V829.3H256.8ZM396.0 814.2H415.9V829.3H396.0ZM515.3 814.2H525.2V829.3H515.3ZM535.2 814.2H545.1V829.3H535.2ZM1002.5 814.2H1012.4V829.3H1002.5ZM67.9 829.3H87.8V844.3H67.9ZM396.0 829.3H405.9V844.3H396.0ZM455.6 829.3H465.6V844.3H455.6ZM515.3 829.3H525.2V844.3H515.3ZM545.1 829.3H555.1V844.3H545.1ZM386.1 844.3H495.4V859.3H386.1ZM535.2 844.3H545.1V859.3H535.2ZM58.0 859.3H67.9V874.2H58.0ZM127.6 859.3H147.4V874.2H127.6ZM386.1 859.3H396.0V874.2H386.1ZM425.8 859.3H435.8V874.2H425.8ZM445.7 859.3H455.6V874.2H445.7ZM465.6 859.3H475.5V874.2H465.6ZM38.1 874.2H48.0V889.0H38.1ZM67.9 874.2H77.9V889.0H67.9ZM127.6 874.2H157.4V889.0H127.6ZM236.9 874.2H246.9V889.0H236.9ZM266.8 874.2H276.7V889.0H266.8ZM117.6 889.0H147.4V903.7H117.6ZM236.9 889.0H246.9V903.7H236.9ZM256.8 889.0H276.7V903.7H256.8ZM107.7 903.7H117.6V918.4H107.7ZM127.6 903.7H137.5V918.4H127.6ZM167.3 903.7H187.2V918.4H167.3ZM236.9 903.7H256.8V918.4H236.9ZM227.0 918.4H236.9V933.0H227.0ZM326.4 918.4H336.3V933.0H326.4ZM584.9 918.4H594.8V933.0H584.9Z"/>
<path fill="#02856c" d="M137.5 55.5H147.4V75.3H137.5ZM167.3 55.5H177.3V75.3H167.3ZM227.0 55.5H236.9V75.3H227.0ZM246.9 55.5H296.6V75.3H246.9ZM366.2 55.5H376.1V75.3H366.2ZM386.1 55.5H415.9V75.3H386.1ZM545.1 55.5H555.1V75.3H545.1ZM634.6 55.5H644.5V75.3H634.6ZM117.6 75.3H127.6V94.9H117.6ZM157.4 75.3H167.3V94.9H157.4ZM177.3 75.3H187.2V94.9H177.3ZM197.2 75.3H207.1V94.9H197.2ZM256.8 75.3H296.6V94.9H256.8ZM316.5 75.3H326.4V94.9H316.5ZM366.2 75.3H396.0V94.9H366.2ZM604.8 75.3H614.7V94.9H604.8ZM932.9 75.3H942.8V94.9H932.9ZM1032.3 75.3H1051.2V94.9H1032.3ZM167.3 94.9H177.3V114.5H167.3ZM197.2 94.9H207.1V114.5H197.2ZM217.0 94.9H227.0V114.5H217.0ZM256.8 94.9H266.8V114.5H256.8ZM366.2 94.9H376.1V114.5H366.2ZM386.1 94.9H396.0V114.5H386.1ZM415.9 94.9H425.8V114.5H415.9ZM475.5 94.9H495.4V114.5H475.5ZM515.3 94.9H535.2V114.5H515.3ZM565.0 94.9H575.0V114.5H565.0ZM634.6 94.9H644.5V114.5H634.6ZM863.3 94.9H883.2V114.5H863.3ZM913.0 94.9H932.9V114.5H913.0ZM1002.5 94.9H1022.3V114.5H1002.5ZM1032.3 94.9H1051.2V114.5H1032.3ZM167.3 114.5H177.3V133.8H167.3ZM197.2 114.5H236.9V133.8H197.2ZM246.9 114.5H266.8V133.8H246.9ZM356.2 114.5H366.2V133.8H356.2ZM376.1 114.5H386.1V133.8H376.1ZM465.6 114.5H485.5V133.8H465.6ZM535.2 114.5H555.1V133.8H535.2ZM843.4 114.5H863.3V133.8H843.4ZM873.2 114.5H922.9V133.8H873.2ZM952.7 114.5H1002.5V133.8H952.7ZM1032.3 114.5H1042.2V133.8H1032.3ZM127.6 133.8H187.2V153.0H127.6ZM197.2 133.8H227.0V153.0H197.2ZM236.9 133.8H246.9V153.0H236.9ZM346.3 133.8H366.2V153.0H346.3ZM376.1 133.8H386.1V153.0H376.1ZM495.4 133.8H505.4V153.0H495.4ZM555.1 133.8H565.0V153.0H555.1ZM803.6 133.8H813.6V153.0H803.6ZM843.4 133.8H863.3V153.0H843.4ZM873.2 133.8H883.2V153.0H873.2ZM893.1 133.8H903.0V153.0H893.1ZM932.9 133.8H942.8V153.0H932.9ZM1012.4 133.8H1051.2V153.0H1012.4ZM127.6 153.0H147.4V172.1H127.6ZM167.3 153.0H177.3V172.1H167.3ZM227.0 153.0H236.9V172.1H227.0ZM246.9 153.0H256.8V172.1H246.9ZM356.2 153.0H366.2V172.1H356.2ZM376.1 153.0H386.1V172.1H376.1ZM465.6 153.0H475.5V172.1H465.6ZM515.3 153.0H525.2V172.1H515.3ZM843.4 153.0H992.5V172.1H843.4ZM1022.3 153.0H1051.2V172.1H1022.3ZM167.3 172.1H177.3V191.1H167.3ZM207.1 172.1H217.0V191.1H207.1ZM227.0 172.1H236.9V191.1H227.0ZM376.1 172.1H396.0V191.1H376.1ZM495.4 172.1H505.4V191.1H495.4ZM803.6 172.1H813.6V191.1H803.6ZM893.1 172.1H942.8V191.1H893.1ZM952.7 172.1H992.5V191.1H952.7ZM1022.3 172.1H1051.2V191.1H1022.3ZM197.2 191.1H207.1V209.9H197.2ZM356.2 191.1H386.1V209.9H356.2ZM396.0 191.1H415.9V209.9H396.0ZM435.8 191.1H445.7V209.9H435.8ZM485.5 191.1H515.3V209.9H485.5ZM883.2 191.1H893.1V209.9H883.2ZM903.0 191.1H932.9V209.9H903.0ZM942.8 191.1H972.6V209.9H942.8ZM982.6 191.1H1002.5V209.9H982.6ZM1022.3 191.1H1051.2V209.9H1022.3ZM376.1 209.9H386.1V228.6H376.1ZM455.6 209.9H485.5V228.6H455.6ZM495.4 209.9H555.1V228.6H495.4ZM883.2 209.9H932.9V228.6H883.2ZM942.8 209.9H1022.3V228.6H942.8ZM1032.3 209.9H1051.2V228.6H1032.3ZM435.8 228.6H445.7V247.1H435.8ZM495.4 228.6H545.1V247.1H495.4ZM783.7 228.6H793.7V247.1H783.7ZM803.6 228.6H813.6V247.1H803.6ZM873.2 228.6H883.2V247.1H873.2ZM893.1 228.6H913.0V247.1H893.1ZM942.8 228.6H972.6V247.1H942.8ZM992.5 228.6H1002.5V247.1H992.5ZM1012.4 228.6H1051.2V247.1H1012.4ZM465.6 247.1H475.5V265.6H465.6ZM485.5 247.1H535.2V265.6H485.5ZM545.1 247.1H555.1V265.6H545.1ZM763.9 247.1H793.7V265.6H763.9ZM883.2 247.1H942.8V265.6H883.2ZM952.7 247.1H972.6V265.6H952.7ZM982.6 247.1H992.5V265.6H982.6ZM1012.4 247.1H1051.2V265.6H1012.4ZM465.6 265.6H475.5V283.9H465.6ZM505.4 265.6H515.3V283.9H505.4ZM525.2 265.6H555.1V283.9H525.2ZM763.9 265.6H783.7V283.9H763.9ZM823.5 265.6H833.4V283.9H823.5ZM913.0 265.6H942.8V283.9H913.0ZM952.7 265.6H1051.2V283.9H952.7ZM495.4 283.9H505.4V302.1H495.4ZM535.2 283.9H545.1V302.1H535.2ZM773.8 283.9H793.7V302.1H773.8ZM843.4 283.9H853.3V302.1H843.4ZM863.3 283.9H873.2V302.1H863.3ZM883.2 283.9H893.1V302.1H883.2ZM903.0 283.9H952.7V302.1H903.0ZM962.7 283.9H1032.3V302.1H962.7ZM1042.2 283.9H1051.2V302.1H1042.2ZM316.5 302.1H326.4V320.1H316.5ZM505.4 302.1H515.3V320.1H505.4ZM525.2 302.1H545.1V320.1H525.2ZM763.9 302.1H773.8V320.1H763.9ZM893.1 302.1H952.7V320.1H893.1ZM972.6 302.1H1022.3V320.1H972.6ZM1032.3 302.1H1051.2V320.1H1032.3ZM236.9 320.1H246.9V338.1H236.9ZM296.6 320.1H306.5V338.1H296.6ZM425.8 320.1H445.7V338.1H425.8ZM505.4 320.1H515.3V338.1H505.4ZM525.2 320.1H535.2V338.1H525.2ZM893.1 320.1H903.0V338.1H893.1ZM913.0 320.1H922.9V338.1H913.0ZM932.9 320.1H942.8V338.1H932.9ZM962.7 320.1H1042.2V338.1H962.7ZM227.0 338.1H246.9V355.9H227.0ZM266.8 338.1H276.7V355.9H266.8ZM396.0 338.1H405.9V355.9H396.0ZM435.8 338.1H445.7V355.9H435.8ZM932.9 338.1H942.8V355.9H932.9ZM962.7 338.1H1051.2V355.9H962.7ZM246.9 355.9H266.8V373.6H246.9ZM763.9 355.9H783.7V373.6H763.9ZM1012.4 355.9H1022.3V373.6H1012.4ZM1032.3 355.9H1051.2V373.6H1032.3ZM246.9 373.6H256.8V391.2H246.9ZM366.2 373.6H386.1V391.2H366.2ZM744.0 373.6H773.8V391.2H744.0ZM913.0 373.6H932.9V391.2H913.0ZM942.8 373.6H992.5V391.2H942.8ZM1012.4 373.6H1051.2V391.2H1012.4ZM266.8 391.2H276.7V408.7H266.8ZM356.2 391.2H366.2V408.7H356.2ZM376.1 391.2H396.0V408.7H376.1ZM753.9 391.2H763.9V408.7H753.9ZM932.9 391.2H942.8V408.7H932.9ZM972.6 391.2H992.5V408.7H972.6ZM1012.4 391.2H1051.2V408.7H1012.4ZM256.8 408.7H266.8V426.1H256.8ZM753.9 408.7H793.7V426.1H753.9ZM932.9 408.7H942.8V426.1H932.9ZM952.7 408.7H962.7V426.1H952.7ZM972.6 408.7H982.6V426.1H972.6ZM1012.4 408.7H1051.2V426.1H1012.4ZM256.8 426.1H266.8V443.3H256.8ZM276.7 426.1H296.6V443.3H276.7ZM704.2 426.1H724.1V443.3H704.2ZM734.0 426.1H783.7V443.3H734.0ZM833.4 426.1H843.4V443.3H833.4ZM1002.5 426.1H1012.4V443.3H1002.5ZM1032.3 426.1H1051.2V443.3H1032.3ZM276.7 443.3H296.6V460.5H276.7ZM594.8 443.3H634.6V460.5H594.8ZM694.3 443.3H704.2V460.5H694.3ZM714.1 443.3H724.1V460.5H714.1ZM763.9 443.3H803.6V460.5H763.9ZM922.9 443.3H932.9V460.5H922.9ZM982.6 443.3H1002.5V460.5H982.6ZM1032.3 443.3H1042.2V460.5H1032.3ZM286.6 460.5H296.6V477.6H286.6ZM555.1 460.5H614.7V477.6H555.1ZM704.2 460.5H734.0V477.6H704.2ZM763.9 460.5H803.6V477.6H763.9ZM853.3 460.5H863.3V477.6H853.3ZM873.2 460.5H883.2V477.6H873.2ZM932.9 460.5H942.8V477.6H932.9ZM952.7 460.5H962.7V477.6H952.7ZM982.6 460.5H1051.2V477.6H982.6ZM525.2 477.6H535.2V494.5H525.2ZM545.1 477.6H555.1V494.5H545.1ZM565.0 477.6H584.9V494.5H565.0ZM594.8 477.6H624.7V494.5H594.8ZM684.3 477.6H803.6V494.5H684.3ZM813.6 477.6H883.2V494.5H813.6ZM922.9 477.6H932.9V494.5H922.9ZM942.8 477.6H982.6V494.5H942.8ZM992.5 477.6H1002.5V494.5H992.5ZM1022.3 477.6H1051.2V494.5H1022.3ZM545.1 494.5H555.1V511.4H545.1ZM594.8 494.5H624.7V511.4H594.8ZM634.6 494.5H644.5V511.4H634.6ZM684.3 494.5H813.6V511.4H684.3ZM863.3 494.5H873.2V511.4H863.3ZM913.0 494.5H972.6V511.4H913.0ZM982.6 494.5H992.5V511.4H982.6ZM1002.5 494.5H1012.4V511.4H1002.5ZM296.6 511.4H306.5V528.1H296.6ZM545.1 511.4H604.8V528.1H545.1ZM614.7 511.4H654.5V528.1H614.7ZM674.4 511.4H734.0V528.1H674.4ZM753.9 511.4H813.6V528.1H753.9ZM873.2 511.4H883.2V528.1H873.2ZM893.1 511.4H922.9V528.1H893.1ZM962.7 511.4H1032.3V528.1H962.7ZM1042.2 511.4H1051.2V528.1H1042.2ZM306.5 528.1H316.5V544.8H306.5ZM425.8 528.1H435.8V544.8H425.8ZM525.2 528.1H565.0V544.8H525.2ZM584.9 528.1H594.8V544.8H584.9ZM624.7 528.1H674.4V544.8H624.7ZM684.3 528.1H704.2V544.8H684.3ZM714.1 528.1H724.1V544.8H714.1ZM734.0 528.1H843.4V544.8H734.0ZM873.2 528.1H883.2V544.8H873.2ZM893.1 528.1H922.9V544.8H893.1ZM952.7 528.1H1012.4V544.8H952.7ZM1022.3 528.1H1032.3V544.8H1022.3ZM177.3 544.8H187.2V561.3H177.3ZM296.6 544.8H306.5V561.3H296.6ZM316.5 544.8H326.4V561.3H316.5ZM475.5 544.8H485.5V561.3H475.5ZM505.4 544.8H515.3V561.3H505.4ZM525.2 544.8H555.1V561.3H525.2ZM575.0 544.8H584.9V561.3H575.0ZM624.7 544.8H704.2V561.3H624.7ZM753.9 544.8H773.8V561.3H753.9ZM783.7 544.8H793.7V561.3H783.7ZM803.6 544.8H813.6V561.3H803.6ZM843.4 544.8H863.3V561.3H843.4ZM873.2 544.8H883.2V561.3H873.2ZM913.0 544.8H952.7V561.3H913.0ZM962.7 544.8H982.6V561.3H962.7ZM992.5 544.8H1051.2V561.3H992.5ZM435.8 561.3H445.7V577.8H435.8ZM485.5 561.3H505.4V577.8H485.5ZM525.2 561.3H545.1V577.8H525.2ZM575.0 561.3H604.8V577.8H575.0ZM614.7 561.3H624.7V577.8H614.7ZM634.6 561.3H644.5V577.8H634.6ZM654.5 561.3H664.4V577.8H654.5ZM674.4 561.3H714.1V577.8H674.4ZM724.1 561.3H744.0V577.8H724.1ZM763.9 561.3H783.7V577.8H763.9ZM793.7 561.3H813.6V577.8H793.7ZM843.4 561.3H873.2V577.8H843.4ZM883.2 561.3H952.7V577.8H883.2ZM962.7 561.3H1002.5V577.8H962.7ZM1012.4 561.3H1051.2V577.8H1012.4ZM425.8 577.8H445.7V594.2H425.8ZM455.6 577.8H465.6V594.2H455.6ZM495.4 577.8H505.4V594.2H495.4ZM515.3 577.8H555.1V594.2H515.3ZM565.0 577.8H644.5V594.2H565.0ZM674.4 577.8H694.3V594.2H674.4ZM734.0 577.8H783.7V594.2H734.0ZM793.7 577.8H813.6V594.2H793.7ZM823.5 577.8H833.4V594.2H823.5ZM843.4 577.8H893.1V594.2H843.4ZM903.0 577.8H952.7V594.2H903.0ZM962.7 577.8H1051.2V594.2H962.7ZM445.7 594.2H475.5V610.5H445.7ZM495.4 594.2H505.4V610.5H495.4ZM535.2 594.2H545.1V610.5H535.2ZM565.0 594.2H594.8V610.5H565.0ZM604.8 594.2H614.7V610.5H604.8ZM624.7 594.2H634.6V610.5H624.7ZM674.4 594.2H684.3V610.5H674.4ZM704.2 594.2H714.1V610.5H704.2ZM734.0 594.2H744.0V610.5H734.0ZM773.8 594.2H793.7V610.5H773.8ZM823.5 594.2H833.4V610.5H823.5ZM843.4 594.2H863.3V610.5H843.4ZM873.2 594.2H1051.2V610.5H873.2ZM435.8 610.5H445.7V626.6H435.8ZM535.2 610.5H555.1V626.6H535.2ZM565.0 610.5H584.9V626.6H565.0ZM594.8 610.5H614.7V626.6H594.8ZM624.7 610.5H644.5V626.6H624.7ZM654.5 610.5H664.4V626.6H654.5ZM684.3 610.5H704.2V626.6H684.3ZM724.1 610.5H734.0V626.6H724.1ZM744.0 610.5H763.9V626.6H744.0ZM843.4 610.5H952.7V626.6H843.4ZM1012.4 610.5H1042.2V626.6H1012.4ZM256.8 626.6H266.8V642.7H256.8ZM276.7 626.6H286.6V642.7H276.7ZM296.6 626.6H306.5V642.7H296.6ZM485.5 626.6H495.4V642.7H485.5ZM505.4 626.6H515.3V642.7H505.4ZM575.0 626.6H604.8V642.7H575.0ZM644.5 626.6H654.5V642.7H644.5ZM704.2 626.6H744.0V642.7H704.2ZM843.4 626.6H883.2V642.7H843.4ZM893.1 626.6H903.0V642.7H893.1ZM932.9 626.6H942.8V642.7H932.9ZM952.7 626.6H972.6V642.7H952.7ZM1022.3 626.6H1051.2V642.7H1022.3ZM197.2 642.7H207.1V658.7H197.2ZM276.7 642.7H286.6V658.7H276.7ZM475.5 642.7H545.1V658.7H475.5ZM584.9 642.7H594.8V658.7H584.9ZM734.0 642.7H744.0V658.7H734.0ZM753.9 642.7H763.9V658.7H753.9ZM813.6 642.7H853.3V658.7H813.6ZM873.2 642.7H972.6V658.7H873.2ZM992.5 642.7H1002.5V658.7H992.5ZM1012.4 642.7H1022.3V658.7H1012.4ZM1042.2 642.7H1051.2V658.7H1042.2ZM207.1 658.7H246.9V674.7H207.1ZM594.8 658.7H604.8V674.7H594.8ZM644.5 658.7H654.5V674.7H644.5ZM704.2 658.7H724.1V674.7H704.2ZM744.0 658.7H753.9V674.7H744.0ZM833.4 658.7H883.2V674.7H833.4ZM893.1 658.7H932.9V674.7H893.1ZM942.8 658.7H972.6V674.7H942.8ZM1012.4 658.7H1032.3V674.7H1012.4ZM227.0 674.7H236.9V690.5H227.0ZM505.4 674.7H515.3V690.5H505.4ZM575.0 674.7H584.9V690.5H575.0ZM594.8 674.7H624.7V690.5H594.8ZM634.6 674.7H644.5V690.5H634.6ZM734.0 674.7H783.7V690.5H734.0ZM833.4 674.7H853.3V690.5H833.4ZM863.3 674.7H982.6V690.5H863.3ZM1002.5 674.7H1012.4V690.5H1002.5ZM19.0 690.5H28.1V706.2H19.0ZM107.7 690.5H127.6V706.2H107.7ZM177.3 690.5H187.2V706.2H177.3ZM246.9 690.5H256.8V706.2H246.9ZM505.4 690.5H535.2V706.2H505.4ZM555.1 690.5H584.9V706.2H555.1ZM604.8 690.5H624.7V706.2H604.8ZM634.6 690.5H674.4V706.2H634.6ZM694.3 690.5H704.2V706.2H694.3ZM724.1 690.5H744.0V706.2H724.1ZM763.9 690.5H773.8V706.2H763.9ZM803.6 690.5H813.6V706.2H803.6ZM833.4 690.5H853.3V706.2H833.4ZM863.3 690.5H873.2V706.2H863.3ZM883.2 690.5H893.1V706.2H883.2ZM913.0 690.5H952.7V706.2H913.0ZM972.6 690.5H992.5V706.2H972.6ZM1002.5 690.5H1012.4V706.2H1002.5ZM1022.3 690.5H1032.3V706.2H1022.3ZM1042.2 690.5H1051.2V706.2H1042.2ZM137.5 706.2H157.4V721.9H137.5ZM197.2 706.2H207.1V721.9H197.2ZM405.9 706.2H415.9V721.9H405.9ZM435.8 706.2H445.7V721.9H435.8ZM555.1 706.2H584.9V721.9H555.1ZM624.7 706.2H634.6V721.9H624.7ZM644.5 706.2H664.4V721.9H644.5ZM674.4 706.2H694.3V721.9H674.4ZM734.0 706.2H753.9V721.9H734.0ZM803.6 706.2H823.5V721.9H803.6ZM833.4 706.2H843.4V721.9H833.4ZM853.3 706.2H873.2V721.9H853.3ZM952.7 706.2H972.6V721.9H952.7ZM1002.5 706.2H1012.4V721.9H1002.5ZM19.0 721.9H28.1V737.5H19.0ZM127.6 721.9H147.4V737.5H127.6ZM207.1 721.9H217.0V737.5H207.1ZM396.0 721.9H405.9V737.5H396.0ZM415.9 721.9H435.8V737.5H415.9ZM555.1 721.9H575.0V737.5H555.1ZM584.9 721.9H614.7V737.5H584.9ZM644.5 721.9H684.3V737.5H644.5ZM694.3 721.9H704.2V737.5H694.3ZM753.9 721.9H763.9V737.5H753.9ZM773.8 721.9H793.7V737.5H773.8ZM803.6 721.9H843.4V737.5H803.6ZM873.2 721.9H883.2V737.5H873.2ZM903.0 721.9H922.9V737.5H903.0ZM942.8 721.9H972.6V737.5H942.8ZM1022.3 721.9H1032.3V737.5H1022.3ZM87.8 737.5H127.6V753.0H87.8ZM177.3 737.5H197.2V753.0H177.3ZM207.1 737.5H217.0V753.0H207.1ZM246.9 737.5H266.8V753.0H246.9ZM415.9 737.5H445.7V753.0H415.9ZM575.0 737.5H584.9V753.0H575.0ZM604.8 737.5H614.7V753.0H604.8ZM624.7 737.5H634.6V753.0H624.7ZM644.5 737.5H674.4V753.0H644.5ZM684.3 737.5H714.1V753.0H684.3ZM744.0 737.5H773.8V753.0H744.0ZM783.7 737.5H793.7V753.0H783.7ZM922.9 737.5H942.8V753.0H922.9ZM28.1 753.0H38.1V768.4H28.1ZM97.7 753.0H107.7V768.4H97.7ZM177.3 753.0H236.9V768.4H177.3ZM256.8 753.0H276.7V768.4H256.8ZM336.3 753.0H356.2V768.4H336.3ZM455.6 753.0H465.6V768.4H455.6ZM594.8 753.0H614.7V768.4H594.8ZM634.6 753.0H644.5V768.4H634.6ZM664.4 753.0H714.1V768.4H664.4ZM753.9 753.0H773.8V768.4H753.9ZM803.6 753.0H813.6V768.4H803.6ZM843.4 753.0H853.3V768.4H843.4ZM913.0 753.0H922.9V768.4H913.0ZM932.9 753.0H942.8V768.4H932.9ZM982.6 753.0H992.5V768.4H982.6ZM1012.4 753.0H1022.3V768.4H1012.4ZM177.3 768.4H207.1V783.7H177.3ZM217.0 768.4H266.8V783.7H217.0ZM276.7 768.4H286.6V783.7H276.7ZM346.3 768.4H356.2V783.7H346.3ZM405.9 768.4H415.9V783.7H405.9ZM465.6 768.4H485.5V783.7H465.6ZM565.0 768.4H584.9V783.7H565.0ZM614.7 768.4H624.7V783.7H614.7ZM644.5 768.4H674.4V783.7H644.5ZM714.1 768.4H724.1V783.7H714.1ZM793.7 768.4H813.6V783.7H793.7ZM823.5 768.4H833.4V783.7H823.5ZM883.2 768.4H893.1V783.7H883.2ZM903.0 768.4H913.0V783.7H903.0ZM942.8 768.4H952.7V783.7H942.8ZM147.4 783.7H157.4V799.0H147.4ZM177.3 783.7H197.2V799.0H177.3ZM207.1 783.7H227.0V799.0H207.1ZM236.9 783.7H266.8V799.0H236.9ZM316.5 783.7H346.3V799.0H316.5ZM356.2 783.7H366.2V799.0H356.2ZM415.9 783.7H425.8V799.0H415.9ZM435.8 783.7H445.7V799.0H435.8ZM455.6 783.7H465.6V799.0H455.6ZM475.5 783.7H495.4V799.0H475.5ZM565.0 783.7H575.0V799.0H565.0ZM604.8 783.7H624.7V799.0H604.8ZM704.2 783.7H724.1V799.0H704.2ZM763.9 783.7H883.2V799.0H763.9ZM972.6 783.7H982.6V799.0H972.6ZM992.5 783.7H1012.4V799.0H992.5ZM1022.3 783.7H1032.3V799.0H1022.3ZM19.0 799.0H38.1V814.2H19.0ZM48.0 799.0H67.9V814.2H48.0ZM87.8 799.0H97.7V814.2H87.8ZM147.4 799.0H157.4V814.2H147.4ZM197.2 799.0H227.0V814.2H197.2ZM246.9 799.0H256.8V814.2H246.9ZM266.8 799.0H326.4V814.2H266.8ZM356.2 799.0H366.2V814.2H356.2ZM376.1 799.0H386.1V814.2H376.1ZM445.7 799.0H535.2V814.2H445.7ZM555.1 799.0H565.0V814.2H555.1ZM604.8 799.0H624.7V814.2H604.8ZM684.3 799.0H694.3V814.2H684.3ZM734.0 799.0H744.0V814.2H734.0ZM753.9 799.0H773.8V814.2H753.9ZM823.5 799.0H863.3V814.2H823.5ZM1002.5 799.0H1012.4V814.2H1002.5ZM1032.3 799.0H1042.2V814.2H1032.3ZM19.0 814.2H28.1V829.3H19.0ZM38.1 814.2H58.0V829.3H38.1ZM246.9 814.2H256.8V829.3H246.9ZM266.8 814.2H286.6V829.3H266.8ZM296.6 814.2H326.4V829.3H296.6ZM376.1 814.2H396.0V829.3H376.1ZM415.9 814.2H425.8V829.3H415.9ZM435.8 814.2H445.7V829.3H435.8ZM455.6 814.2H515.3V829.3H455.6ZM525.2 814.2H535.2V829.3H525.2ZM545.1 814.2H614.7V829.3H545.1ZM654.5 814.2H664.4V829.3H654.5ZM724.1 814.2H734.0V829.3H724.1ZM753.9 814.2H763.9V829.3H753.9ZM793.7 814.2H803.6V829.3H793.7ZM853.3 814.2H863.3V829.3H853.3ZM873.2 814.2H893.1V829.3H873.2ZM982.6 814.2H992.5V829.3H982.6ZM19.0 829.3H67.9V844.3H19.0ZM177.3 829.3H207.1V844.3H177.3ZM246.9 829.3H266.8V844.3H246.9ZM276.7 829.3H356.2V844.3H276.7ZM376.1 829.3H396.0V844.3H376.1ZM405.9 829.3H455.6V844.3H405.9ZM505.4 829.3H515.3V844.3H505.4ZM525.2 829.3H545.1V844.3H525.2ZM555.1 829.3H644.5V844.3H555.1ZM744.0 829.3H753.9V844.3H744.0ZM763.9 829.3H773.8V844.3H763.9ZM783.7 829.3H793.7V844.3H783.7ZM883.2 829.3H903.0V844.3H883.2ZM19.0 844.3H97.7V859.3H19.0ZM177.3 844.3H227.0V859.3H177.3ZM246.9 844.3H366.2V859.3H246.9ZM376.1 844.3H386.1V859.3H376.1ZM515.3 844.3H535.2V859.3H515.3ZM545.1 844.3H575.0V859.3H545.1ZM604.8 844.3H654.5V859.3H604.8ZM664.4 844.3H674.4V859.3H664.4ZM704.2 844.3H714.1V859.3H704.2ZM734.0 844.3H753.9V859.3H734.0ZM773.8 844.3H783.7V859.3H773.8ZM793.7 844.3H803.6V859.3H793.7ZM813.6 844.3H823.5V859.3H813.6ZM873.2 844.3H913.0V859.3H873.2ZM932.9 844.3H942.8V859.3H932.9ZM952.7 844.3H962.7V859.3H952.7ZM1002.5 844.3H1012.4V859.3H1002.5ZM1032.3 844.3H1042.2V859.3H1032.3ZM19.0 859.3H48.0V874.2H19.0ZM77.9 859.3H107.7V874.2H77.9ZM167.3 859.3H227.0V874.2H167.3ZM236.9 859.3H266.8V874.2H236.9ZM276.7 859.3H336.3V874.2H276.7ZM346.3 859.3H366.2V874.2H346.3ZM376.1 859.3H386.1V874.2H376.1ZM396.0 859.3H425.8V874.2H396.0ZM435.8 859.3H445.7V874.2H435.8ZM455.6 859.3H465.6V874.2H455.6ZM475.5 859.3H505.4V874.2H475.5ZM515.3 859.3H525.2V874.2H515.3ZM614.7 859.3H624.7V874.2H614.7ZM654.5 859.3H664.4V874.2H654.5ZM734.0 859.3H803.6V874.2H734.0ZM873.2 859.3H913.0V874.2H873.2ZM932.9 859.3H942.8V874.2H932.9ZM952.7 859.3H962.7V874.2H952.7ZM1042.2 859.3H1051.2V874.2H1042.2ZM87.8 874.2H107.7V889.0H87.8ZM187.2 874.2H227.0V889.0H187.2ZM246.9 874.2H256.8V889.0H246.9ZM276.7 874.2H376.1V889.0H276.7ZM396.0 874.2H415.9V889.0H396.0ZM425.8 874.2H435.8V889.0H425.8ZM465.6 874.2H475.5V889.0H465.6ZM555.1 874.2H565.0V889.0H555.1ZM594.8 874.2H614.7V889.0H594.8ZM644.5 874.2H654.5V889.0H644.5ZM664.4 874.2H674.4V889.0H664.4ZM684.3 874.2H694.3V889.0H684.3ZM724.1 874.2H763.9V889.0H724.1ZM773.8 874.2H793.7V889.0H773.8ZM803.6 874.2H813.6V889.0H803.6ZM823.5 874.2H833.4V889.0H823.5ZM843.4 874.2H853.3V889.0H843.4ZM883.2 874.2H903.0V889.0H883.2ZM952.7 874.2H962.7V889.0H952.7ZM1022.3 874.2H1032.3V889.0H1022.3ZM1042.2 874.2H1051.2V889.0H1042.2ZM97.7 889.0H117.6V903.7H97.7ZM177.3 889.0H236.9V903.7H177.3ZM246.9 889.0H256.8V903.7H246.9ZM286.6 889.0H296.6V903.7H286.6ZM425.8 889.0H455.6V903.7H425.8ZM465.6 889.0H475.5V903.7H465.6ZM535.2 889.0H545.1V903.7H535.2ZM594.8 889.0H604.8V903.7H594.8ZM614.7 889.0H624.7V903.7H614.7ZM634.6 889.0H654.5V903.7H634.6ZM724.1 889.0H734.0V903.7H724.1ZM744.0 889.0H813.6V903.7H744.0ZM843.4 889.0H853.3V903.7H843.4ZM932.9 889.0H952.7V903.7H932.9ZM972.6 889.0H982.6V903.7H972.6ZM1012.4 889.0H1022.3V903.7H1012.4ZM97.7 903.7H107.7V918.4H97.7ZM117.6 903.7H127.6V918.4H117.6ZM187.2 903.7H207.1V918.4H187.2ZM256.8 903.7H296.6V918.4H256.8ZM386.1 903.7H405.9V918.4H386.1ZM435.8 903.7H455.6V918.4H435.8ZM565.0 903.7H584.9V918.4H565.0ZM634.6 903.7H644.5V918.4H634.6ZM684.3 903.7H694.3V918.4H684.3ZM724.1 903.7H744.0V918.4H724.1ZM773.8 903.7H783.7V918.4H773.8ZM793.7 903.7H803.6V918.4H793.7ZM942.8 903.7H952.7V918.4H942.8ZM972.6 903.7H982.6V918.4H972.6ZM1022.3 903.7H1051.2V918.4H1022.3ZM97.7 918.4H137.5V933.0H97.7ZM207.1 918.4H217.0V933.0H207.1ZM236.9 918.4H246.9V933.0H236.9ZM266.8 918.4H276.7V933.0H266.8ZM296.6 918.4H306.5V933.0H296.6ZM316.5 918.4H326.4V933.0H316.5ZM396.0 918.4H405.9V933.0H396.0ZM415.9 918.4H425.8V933.0H415.9ZM575.0 918.4H584.9V933.0H575.0ZM644.5 918.4H654.5V933.0H644.5ZM714.1 918.4H744.0V933.0H714.1ZM763.9 918.4H773.8V933.0H763.9ZM833.4 918.4H853.3V933.0H833.4ZM903.0 918.4H922.9V933.0H903.0ZM932.9 918.4H942.8V933.0H932.9ZM972.6 918.4H982.6V933.0H972.6ZM1012.4 918.4H1032.3V933.0H1012.4Z"/>
</g>
<defs><clipPath id="mapclip"><rect x="19" y="56.5" width="1032.2" height="875.5"/></clipPath></defs>
<g fill="none" stroke="#000" stroke-width="1.35" stroke-linejoin="round" clip-path="url(#mapclip)">
<polyline points="112.8,56.0 119.9,63.1 127.9,58.0 124.9,66.1 137.0,73.6 144.1,74.6 151.1,67.1 141.4,75.2 134.0,73.6 130.9,83.2 124.5,79.2 117.8,76.2 116.4,85.3 112.8,83.2 106.7,92.3 111.4,112.5 116.8,101.8 122.9,113.5 130.9,107.8 137.0,96.3 130.9,93.3 139.0,99.8 150.1,84.2 147.1,93.7 140.0,105.8 149.1,109.1 159.2,108.4 145.1,113.5 142.0,125.6 133.4,126.6 141.0,130.0 145.5,135.3 163.2,129.6 149.5,137.7 148.1,145.8 139.0,135.7 129.3,137.3 127.9,143.7 122.5,131.2 119.9,136.7 122.9,138.1 116.8,151.8 120.9,161.9 126.9,171.0 139.0,180.1 159.2,192.2 163.6,189.7 167.3,194.2 174.3,187.5 167.3,192.6 159.6,200.6 167.7,205.3 171.7,196.6 177.3,204.7 179.4,210.7 183.8,205.3 197.5,209.3 201.9,209.3 213.6,205.3 217.7,192.6 219.7,200.6 226.1,201.2 228.2,194.6 232.2,194.6 239.9,184.5 247.9,175.4 253.6,174.0 255.2,165.9 260.0,162.3 265.3,157.1 264.1,153.8 259.2,153.8 268.1,151.8 272.5,148.2 269.3,143.7 274.6,141.7 278.0,138.1"/>
<polyline points="278.0,136.7 286.1,133.3 289.1,136.1 295.1,131.2 305.2,130.0 308.3,124.6 312.3,115.5 315.3,103.4 314.3,94.3 308.3,91.3 305.8,88.9"/>
<polyline points="316.3,68.1 326.4,62.7 323.4,73.2 321.4,87.3 319.3,91.7 318.3,75.2 316.3,68.1"/>
<polyline points="319.3,94.3 322.0,103.0 327.4,110.5 331.4,116.5 338.5,122.0 343.6,119.1 346.6,127.2 353.0,142.1 360.7,140.9 365.1,131.6 368.0,113.9 364.7,101.8 362.7,87.3 370.8,77.2 372.8,69.5 378.8,65.1 387.9,56.6"/>
<polyline points="326.4,140.1 344.6,127.6"/>
<polyline points="339.5,132.7 340.9,136.1 344.6,149.8 348.6,165.9 345.6,173.0 348.6,174.4 344.6,183.3 349.6,178.0 353.6,184.5 357.7,176.4 359.7,181.3 362.7,176.4 364.7,179.0"/>
<polyline points="353.0,194.2 370.8,184.1 372.0,188.5 367.1,196.6 359.1,214.3 355.9,205.3 353.0,194.2"/>
<polyline points="364.7,208.3 367.1,220.4 371.2,230.5 364.7,232.5 372.0,237.5 373.2,248.6 375.2,255.1 378.8,251.7 380.1,264.8 384.9,269.2 386.9,275.0"/>
<polyline points="388.5,181.7 399.0,172.0 400.2,176.0 399.0,182.5 407.1,172.4 417.2,163.1 423.2,165.1 427.3,172.0 429.7,163.9 435.7,159.9 447.8,153.8 453.9,139.7 459.9,129.6 456.7,125.6 458.7,109.1 445.4,108.2 441.8,102.2 427.3,105.4 425.2,109.5 423.2,105.4 419.2,113.9 425.6,140.1 413.1,126.8 405.1,127.6 401.0,136.1 399.0,148.2 397.0,143.7 396.0,136.7 393.0,137.7 394.2,149.8 399.4,152.2 401.4,160.3 395.0,170.0 388.5,181.7"/>
<polyline points="461.5,226.4 459.5,214.3 467.6,194.2 477.7,163.9 491.8,143.7 490.8,163.9 494.2,171.0 485.7,176.0 479.7,186.1 472.0,202.2 461.5,226.4"/>
<polyline points="278.0,264.8 294.1,239.6 322.4,230.1 314.3,238.9 315.5,256.7 318.3,266.8 317.3,275.0"/>
<polyline points="538.0,99.0 550.1,96.3 568.3,94.9 575.3,100.4 580.4,105.0 586.4,105.8 585.4,111.5 590.4,109.5 598.5,113.5 608.6,115.1 614.6,107.0 606.6,101.4 604.6,95.3 600.5,93.3 596.5,91.3 592.5,85.3 591.4,98.4 586.4,96.3 578.3,87.3 574.3,91.3 568.3,88.3 564.2,90.3 558.2,87.3 557.2,93.3 546.1,95.3 538.0,97.4"/>
<polyline points="658.0,74.8 643.9,74.2 652.0,70.1 658.0,67.5 656.0,63.5 652.6,59.0 648.9,56.0"/>
<polyline points="658.0,74.8 624.7,96.3 617.7,102.4 618.7,107.4 626.7,105.4 632.8,106.4 636.8,104.4 640.9,109.5 636.8,114.5 632.8,111.5 631.8,119.5 614.6,132.7 613.6,139.7 611.6,147.8 604.6,139.7 602.5,131.6 603.6,123.6 600.9,122.0 598.5,141.7 594.5,143.7 592.5,147.8 588.4,151.8 581.4,153.8 578.3,156.9 574.3,155.8 571.3,159.9 564.2,161.9 542.0,160.9"/>
<polyline points="571.3,163.9 566.2,172.0 560.2,174.0 552.1,174.0 564.2,178.0 562.2,186.1 566.2,192.2 561.2,194.2 567.2,198.2 560.2,205.3 566.2,210.3 557.2,216.4 562.2,222.4 558.2,228.5 554.1,237.5 560.2,242.6 562.2,247.6 564.2,251.7 556.2,260.7 553.1,268.8 554.1,275.0"/>
<polyline points="568.3,275.0 579.3,256.7 573.3,268.8 570.7,275.0"/>
<polyline points="620.7,275.0 618.7,262.7 621.7,254.7 618.7,244.6 630.8,230.5 642.9,216.4 646.9,222.4 649.3,216.4 654.6,215.3 659.0,222.4 656.0,226.8 649.9,230.5 647.9,236.5 645.9,248.6 650.9,254.7 643.9,258.7 641.9,264.8 630.8,273.8"/>
<polyline points="775.0,138.7 786.1,139.7 792.5,131.2 798.0,127.6"/>
<polyline points="786.1,140.7 789.7,143.7 792.5,155.8 798.0,156.5"/>
<polyline points="798.0,161.5 786.1,165.5 783.1,172.4 779.0,170.4 777.0,176.4 774.0,171.6 767.9,172.4 772.0,182.1 766.9,188.1 774.0,193.2 783.1,199.2 786.1,194.2 798.0,190.5"/>
<polyline points="783.1,199.2 774.0,214.3 776.0,216.8 783.7,204.3"/>
<polyline points="749.8,275.0 749.8,262.7 761.9,241.6 798.0,227.4"/>
<polyline points="808.5,70.1 824.2,63.5 828.3,57.4 847.4,57.0"/>
<polyline points="833.3,115.5 853.5,112.5 855.5,103.4 858.5,106.4 862.5,103.4 866.6,96.3 881.7,97.4 884.7,89.3 888.8,95.3 897.8,91.3 898.8,96.3 910.9,93.3 914.0,83.2 917.0,88.3 920.0,81.2 924.1,88.3 931.1,84.2 943.2,87.3 958.3,90.9 969.4,98.4 1008.8,102.4 1014.8,97.4 1015.8,72.1 1025.9,81.2 1032.0,68.7 1042.1,72.7 1052.1,69.1"/>
<polyline points="1014.8,97.4 1018.9,103.8 1008.8,109.9 1005.7,119.5 998.7,132.7 989.2,149.8 990.6,184.1 996.7,211.3 1005.3,218.8 994.7,224.4 987.6,243.6"/>
<polyline points="997.7,132.7 979.5,135.3 971.1,148.2 977.5,156.9 981.1,176.0 989.6,182.1 994.7,196.2 1005.7,218.4 1017.4,220.8 1017.8,209.3 1009.8,196.6 998.7,199.2 992.6,192.2 1005.7,172.0 1001.3,139.7 997.7,132.7"/>
<polyline points="833.3,115.5 834.3,131.6 829.9,131.2 839.3,135.7 831.3,139.7 834.3,149.8 843.4,152.8 833.9,156.9 842.4,182.5 852.9,185.1 858.1,192.2 865.6,181.1 876.3,185.1 871.6,202.2 866.6,218.4 867.6,236.5 868.6,266.8 864.6,275.0"/>
<polyline points="866.6,218.4 896.8,204.3 902.9,209.3 904.9,204.3 919.0,214.3 933.1,220.4 953.3,244.6 967.4,236.5 987.6,243.6 993.6,244.6 1005.7,260.7 1003.7,275.0"/>
<polyline points="798.0,126.6 801.6,130.0 801.0,135.3 811.1,135.3 814.5,144.1 806.1,148.2 810.5,151.4 798.0,156.3"/>
<polyline points="798.0,164.9 810.5,162.9 824.6,174.0 803.0,188.5 798.0,192.2"/>
<polyline points="798.0,237.5 810.1,248.6 818.2,258.7 822.6,275.0"/>
<polyline points="239.9,275.0 227.4,300.2 234.2,308.9 239.5,308.3 239.9,314.3 229.8,316.3 225.3,305.3 221.3,317.4 222.7,351.6 224.1,373.8 219.7,385.9 228.8,393.0 229.8,385.9 243.9,402.5 242.9,432.3 233.8,420.2 230.8,434.3 227.8,443.4"/>
<polyline points="229.8,433.3 239.9,434.3 244.9,446.4 237.8,452.5 256.0,460.6 241.9,466.6 239.9,473.7 253.0,475.7 248.9,482.7 257.0,492.8 251.0,495.0"/>
<polyline points="230.8,433.3 249.9,432.3 266.1,439.4 278.0,434.3"/>
<polyline points="278.0,280.0 264.1,284.1 249.9,284.1 236.8,297.2 234.2,308.9"/>
<polyline points="278.0,282.1 269.1,285.1 263.7,290.1 263.1,307.3 261.0,312.3 267.1,310.3 271.7,317.8"/>
<polyline points="245.9,321.4 243.9,312.3 259.6,299.6 260.0,310.3"/>
<polyline points="278.0,416.2 273.1,424.3 278.0,425.3"/>
<polyline points="278.0,288.1 283.0,281.1 289.1,278.0 293.1,279.4 284.1,284.1"/>
<polyline points="315.3,275.0 308.3,284.1 306.2,294.2 308.3,305.3 301.2,304.9 308.3,306.3 309.3,314.3 329.4,318.4 334.9,324.4 330.0,335.5 326.4,344.0 323.4,341.6 320.8,347.6 317.3,341.6 313.9,335.5 306.6,341.6 304.2,352.7 305.2,366.8 291.1,366.8 298.2,369.8 297.2,376.9 282.0,377.9 290.1,384.9 286.1,391.0 278.0,392.0"/>
<polyline points="278.0,391.0 290.1,387.9 308.3,382.9 315.3,387.9 316.3,394.4 321.4,383.9 325.4,393.0 320.4,394.4 329.4,404.1 326.4,420.6 299.2,420.6 303.2,417.2 296.2,413.2 291.1,404.1 287.1,394.0 282.0,391.0"/>
<polyline points="347.6,355.3 356.7,359.7 355.7,366.8 349.6,367.8 346.6,374.8 331.4,373.8 338.5,379.9 336.5,384.9 342.5,396.0 340.5,402.1 346.6,412.2 366.7,413.2 364.7,420.2 369.8,425.3 382.9,425.3 382.9,414.2 394.0,408.1 395.0,391.0 386.9,385.9 398.0,379.9 397.0,369.8 399.0,351.6 395.0,347.6 387.9,346.6 369.8,357.7 372.8,358.7 376.8,359.7 378.8,379.9 373.8,375.8 372.8,373.8 366.7,375.8 362.7,369.8 366.7,357.7 357.7,359.7"/>
<polyline points="384.9,275.0 388.9,288.1 400.0,297.2 405.1,309.3 411.1,314.3 410.1,323.4 401.0,326.4 407.1,339.5 394.0,334.5 400.0,343.6 419.2,379.9 411.1,392.0 409.1,400.1 430.3,402.1 451.5,396.0 463.6,399.0 468.6,390.0 463.6,375.8 463.6,367.8 477.7,351.6 485.7,354.7 483.7,344.6 497.8,342.6 507.9,343.6 508.9,346.6 517.0,342.6 519.0,344.6 529.1,344.6 529.1,350.6 534.2,333.5 538.0,327.4"/>
<polyline points="400.0,379.9 402.0,384.9 398.0,385.9 400.0,379.9"/>
<polyline points="335.5,439.4 342.5,429.9 355.7,435.3 363.7,427.3 370.8,426.3 382.9,437.4 374.8,445.4 374.4,456.5 367.8,444.4 358.7,448.5 355.7,452.9 336.5,442.4 335.5,439.4"/>
<polyline points="278.0,425.3 287.1,436.4 297.2,442.4 296.6,459.6 291.1,463.0 302.2,462.2 303.8,471.7 309.3,465.0 326.0,473.7 338.1,468.6 340.1,476.7 327.4,495.0"/>
<polyline points="357.7,495.0 360.7,486.8 376.8,481.7 380.9,487.8 379.9,482.7 397.0,461.6 415.2,464.6 425.2,476.7 435.3,488.8"/>
<polyline points="393.0,476.7 395.0,468.6 407.1,469.6 411.1,465.6 397.0,462.6"/>
<polyline points="484.7,493.8 538.0,477.7"/>
<polyline points="538.0,327.4 544.1,311.3 549.1,309.3 550.1,300.2 552.1,294.2 553.1,283.1 557.2,280.0 555.1,275.0"/>
<polyline points="550.5,341.6 551.1,312.3 570.3,275.0"/>
<polyline points="550.5,341.6 562.2,311.3 574.3,275.0"/>
<polyline points="619.7,290.1 630.8,284.7 630.4,275.0"/>
<polyline points="619.7,290.1 626.7,278.0 624.7,275.0"/>
<polyline points="749.8,275.0 749.8,281.1 736.1,295.6 732.8,318.4 735.3,350.0 737.7,377.9 743.3,391.0 741.3,403.1 745.7,407.1 741.3,412.2 743.7,426.3 732.6,433.3 715.1,429.3 691.3,431.3 689.3,450.5 694.3,445.4 697.3,449.5 710.4,448.1 694.3,450.5 683.2,462.6 672.1,468.6 664.1,471.7 665.1,475.7 670.1,478.7"/>
<polyline points="735.3,350.0 743.7,349.6 748.8,337.5 759.9,332.5 775.0,326.4 798.0,329.5"/>
<polyline points="715.1,429.3 737.7,390.4 736.7,397.0 719.5,420.2 711.5,429.3"/>
<polyline points="745.7,407.1 776.0,424.3 798.0,421.2"/>
<polyline points="683.2,462.6 749.8,471.7 798.0,468.6"/>
<polyline points="670.1,478.7 671.1,473.7 679.2,464.6 646.9,470.6 636.8,463.6 631.8,442.4 646.9,454.5 645.9,450.5 627.8,437.4 611.6,437.4 594.5,443.4 556.2,457.5 538.0,478.7"/>
<polyline points="823.2,275.0 830.3,281.1 839.3,286.1 851.4,283.1 860.5,275.0"/>
<polyline points="798.0,329.5 811.1,325.4 817.2,333.5 826.2,328.4 859.5,336.5 874.6,334.5 888.8,323.4 896.8,340.6 919.0,344.6 946.2,374.8 956.3,377.9 966.4,375.8 972.5,367.8 994.7,369.8 1009.8,346.6 1017.8,345.6 1025.9,351.6 1037.0,349.6 1042.1,358.7 1052.1,354.7"/>
<polyline points="956.3,377.9 951.3,402.1 964.4,407.1 956.3,417.2 945.2,416.2 939.2,427.3 928.1,430.3 922.0,442.4 923.1,454.5 915.0,471.7 902.9,475.7 886.7,486.8 885.7,495.0"/>
<polyline points="915.0,472.7 910.9,473.7 914.0,483.8 923.1,482.7 922.0,474.7 915.0,472.7"/>
<polyline points="1009.8,346.6 1018.9,344.6 1017.8,317.4 1008.8,300.2 1007.8,295.2 997.7,294.2 1002.7,275.0"/>
<polyline points="798.0,421.8 807.1,438.0 802.4,454.1 803.0,469.0"/>
<polyline points="798.0,469.0 812.1,468.2 830.3,481.7 833.9,495.0"/>
<polyline points="249.9,495.0 253.0,498.6 265.1,499.4 278.0,519.6"/>
<polyline points="236.8,537.0 239.9,525.3 235.8,515.2 243.5,502.1 257.0,505.5 267.1,504.7 278.0,514.8"/>
<polyline points="238.9,525.3 228.8,521.2 227.8,528.3 224.7,534.3 219.7,529.3 214.7,513.6 187.4,515.2 180.4,521.2 178.3,538.4 171.3,530.3 149.1,532.3 145.1,538.4 133.0,535.3 116.8,545.4 111.8,555.5 112.8,569.6 124.9,571.6 121.9,583.7 129.9,588.8 116.8,589.8 104.7,598.9 106.7,605.9 95.7,601.9 100.7,597.9 98.7,585.8 106.7,578.7 98.7,565.6 92.6,567.6 87.6,563.6 83.6,591.8 64.4,626.1 58.3,629.1 59.3,636.2 78.5,644.3 88.6,639.2 87.6,644.3 64.4,648.3 66.4,662.4 55.3,653.3 51.3,652.3 36.2,656.4 50.3,664.4 66.4,667.4 72.5,668.5 74.5,660.4 80.5,662.4 88.6,659.4 89.6,664.4 98.7,660.4 106.7,673.5 116.8,672.5 128.9,680.6 132.0,688.6 123.9,700.7 125.9,704.8 139.0,705.8 147.1,715.0"/>
<polyline points="18.0,674.5 34.1,665.4 36.2,670.5 34.1,674.5 40.2,671.5 53.3,677.5 61.4,671.5 66.4,668.5"/>
<polyline points="153.1,521.2 171.3,531.3 178.3,538.4"/>
<polyline points="178.3,538.4 185.4,541.4 186.4,555.5 179.4,583.7 167.3,584.8 165.2,591.8 168.3,596.9 177.3,596.9 179.4,611.0 165.2,622.1 169.3,630.1 167.3,633.2 153.1,637.2 145.1,634.2 135.0,638.2 139.0,650.3 145.1,667.4 140.0,675.5 134.0,680.6 141.0,694.7 139.0,706.8"/>
<polyline points="185.4,539.4 190.4,539.4 194.5,546.4"/>
<polyline points="329.4,495.0 332.5,497.4 339.5,495.4"/>
<polyline points="345.6,495.0 354.2,500.6 357.1,495.0"/>
<polyline points="278.0,518.2 289.1,526.3"/>
<polyline points="447.4,495.0 451.1,499.4 448.4,504.7 465.6,512.7 472.6,543.4 460.5,571.2 479.7,589.8 476.7,600.9 485.7,622.1 479.7,638.2 485.7,653.3 494.2,660.4 496.8,674.5 491.8,686.6 488.8,698.7"/>
<polyline points="463.6,499.0 466.6,513.2"/>
<polyline points="484.7,495.0 477.7,513.2 479.3,520.8"/>
<polyline points="430.3,715.0 439.4,707.8 449.4,706.8 453.5,702.7 469.6,696.7 465.6,689.6 468.6,687.6 473.6,688.6 479.7,696.7 485.7,701.7 494.8,699.7 495.8,689.6 500.9,689.6 509.9,702.7 518.0,704.8 528.1,705.8 538.0,715.0"/>
<polyline points="833.3,495.0 839.3,514.2 840.4,521.2 848.4,545.4 850.4,579.7 830.3,593.8 820.2,609.0 838.3,622.1 835.3,654.3 840.4,666.4 838.3,670.5 858.5,698.7 851.4,703.8 855.5,715.0"/>
<polyline points="834.3,497.4 839.3,501.1 858.5,497.0 868.6,502.1 876.7,496.0 884.7,495.0"/>
<polyline points="835.3,653.3 839.3,650.3 854.5,651.3 869.6,634.2 899.9,629.1 914.0,631.7 935.2,632.2 951.3,639.2 978.5,642.2 983.6,652.3 992.6,650.3 1001.7,661.4 1005.7,651.3 1014.8,655.3 1021.9,649.3 1026.9,656.4 1037.0,654.3 1042.1,664.4 1045.1,656.4 1052.1,653.3"/>
<polyline points="27.1,715.0 30.1,718.0 42.2,723.1 46.2,734.2 58.3,731.1 66.4,736.2 64.4,753.3 77.5,756.3 89.6,743.2 91.6,764.4 106.7,770.5 116.8,782.6 128.9,779.5 136.0,786.6 147.1,783.6 157.2,786.6 166.2,803.7 174.3,801.3 179.4,807.8 191.5,806.8 194.5,803.7 201.5,810.8 224.7,816.9 208.6,838.0 200.5,868.3 197.5,892.5 201.5,898.5 187.4,908.6 183.4,904.6 177.3,905.6 173.3,912.7 178.3,913.7 163.2,932.8"/>
<polyline points="201.5,898.5 223.7,895.5 235.8,896.5 239.9,893.5 233.8,890.5 239.9,886.0 249.9,892.5 256.0,894.5 268.1,894.5 278.0,898.5"/>
<polyline points="136.0,743.2 127.9,759.8 133.0,774.5 128.9,779.9"/>
<polyline points="156.8,786.0 157.2,764.4 144.1,753.3 142.0,745.3 136.0,743.2"/>
<polyline points="142.0,745.3 143.1,739.2 152.1,734.2 152.1,726.1 145.1,718.0 147.1,715.0"/>
<polyline points="430.3,715.0 415.2,727.1 398.0,729.1 387.9,742.2 379.9,734.2 386.9,751.3 397.0,758.4 392.0,769.5 403.1,789.6 416.2,796.7 425.2,809.8 436.3,817.9 441.4,817.9 449.4,830.0 456.5,838.0 467.6,841.1 475.7,836.0 483.7,839.0 487.8,827.9 493.8,826.9 496.8,813.8 505.9,815.8 523.1,822.9 538.0,829.0"/>
<polyline points="449.4,830.0 444.4,843.1 433.3,842.1 431.3,852.2 407.1,867.3 415.2,883.4 413.1,890.5 418.2,892.5 418.2,903.6 409.1,900.6 407.1,893.5 397.0,895.5 393.0,892.5 385.9,893.5 384.9,897.5 361.7,898.5 346.6,909.6 336.5,909.6 331.4,901.6 315.3,899.6 313.3,910.6 304.2,916.7 303.2,911.7 298.2,909.6 293.1,898.5 287.1,898.5 278.0,900.6"/>
<polyline points="278.0,901.6 283.0,909.6 278.0,918.7"/>
<polyline points="366.7,935.0 382.9,927.8 383.9,932.4"/>
<polyline points="553.1,715.0 543.0,724.7 560.2,746.3 575.3,738.8 570.3,726.1 582.4,730.1 591.4,736.2 603.6,734.2 604.6,741.2 599.5,743.2 609.6,754.3 615.7,750.3 626.7,758.4 636.8,758.4 640.9,770.5 647.9,773.5 654.0,790.6 662.0,789.6 672.1,777.9 680.2,790.0 685.2,790.6 685.2,802.1 696.3,803.7 700.4,794.7 707.4,790.0 721.5,789.2 730.6,795.7 737.7,791.6 739.7,788.6 756.8,787.6 771.0,793.7 775.0,801.7 796.2,809.8 791.1,823.9 780.0,838.0 779.0,849.1 798.0,868.3"/>
<polyline points="779.0,849.1 764.9,854.2 750.8,841.1 738.7,845.1 726.6,840.1 715.5,842.1 706.4,858.2 691.3,866.3 679.2,860.2 672.1,869.3 648.9,871.3 644.9,876.4 647.9,885.4 640.9,888.5 605.6,888.9 582.4,873.3 568.3,852.2 572.3,840.1 571.3,834.0 562.2,826.9 556.2,825.9 547.1,830.0 538.0,829.0"/>
<polyline points="572.3,836.0 578.3,824.9 594.5,824.9 610.6,817.9 619.7,808.8 622.7,796.7 628.8,793.7 636.8,783.6 646.9,782.6"/>
<polyline points="582.4,873.3 575.3,882.4 577.3,890.5 564.2,892.5 560.2,888.5 553.1,892.5 563.2,901.6 560.2,907.6 553.1,909.6 555.1,933.8"/>
<polyline points="759.9,932.8 774.0,912.7 786.1,890.5 798.0,887.4"/>
<polyline points="857.5,715.0 858.5,719.0 852.5,728.1 841.4,730.1 800.0,779.5 801.0,804.8 808.1,809.8 808.1,813.8 798.0,809.8"/>
<polyline points="798.0,868.3 807.1,869.3 809.1,876.4 806.1,879.4"/>
<polyline points="798.0,887.4 819.2,868.3 830.3,875.3 848.4,878.8 875.7,877.4 889.8,891.5 905.9,879.4 938.2,875.3 945.2,863.9 959.4,859.2 974.5,867.3 983.6,894.5 993.6,905.6 1003.7,924.8 1011.8,931.8"/>
<polyline points="959.4,859.2 961.4,854.2 966.4,850.5 981.5,853.2 993.6,847.1 1001.7,847.7 1014.8,856.2 1015.8,860.2 1025.9,860.2 1027.9,865.3 1031.0,870.3 1038.0,865.3 1044.1,868.3 1051.1,878.4"/>
<polyline points="239.9,275.0 278.0,262.7"/>
<polyline points="864.6,275.0 860.5,275.0"/>
<polyline points="536.5,715.0 550.7,712.3 553.2,715.0"/>
<polyline points="435.3,488.8 444.1,483.6 445.3,492.5 451.5,499.9 448.4,505.7 466.6,512.5 478.6,521.1 476.6,514.2 485.5,499.5 484.4,492.9"/>
<polyline points="339.0,495.2 342.8,493.4 346.5,495.3"/>
</g>
<rect x="18.2" y="55.3" width="1034" height="877.8" fill="none" stroke="#000" stroke-width="2.1"/>
<text x="27.5" y="94.7" style="font-family:'Liberation Sans',sans-serif;font-size:37px">(a)</text>
<rect x="18.2" y="951.5" width="258.8" height="17.0" fill="#5c2002"/>
<rect x="276.7" y="951.5" width="258.8" height="17.0" fill="#ab660d"/>
<rect x="535.2" y="951.5" width="258.8" height="17.0" fill="#d6cc8e"/>
<rect x="793.7" y="951.5" width="258.8" height="17.0" fill="#02856c"/>
<rect x="18.2" y="951.5" width="1034.0" height="17.0" fill="none" stroke="#000" stroke-width="2.1"/>
<line x1="147.4" y1="968.5" x2="147.4" y2="977.5" stroke="#000" stroke-width="2.1"/>
<text x="147.4" y="1006" text-anchor="middle" font-size="25">Decline</text>
<line x1="405.9" y1="968.5" x2="405.9" y2="977.5" stroke="#000" stroke-width="2.1"/>
<text x="405.9" y="1006" text-anchor="middle" font-size="25">HighV</text>
<line x1="664.5" y1="968.5" x2="664.5" y2="977.5" stroke="#000" stroke-width="2.1"/>
<text x="664.5" y="1006" text-anchor="middle" font-size="25">PRecov</text>
<line x1="923.0" y1="968.5" x2="923.0" y2="977.5" stroke="#000" stroke-width="2.1"/>
<text x="923.0" y="1006" text-anchor="middle" font-size="25">Greening</text>
<defs><clipPath id="clipb"><rect x="1235" y="22.2" width="795" height="445.6"/></clipPath></defs>
<g clip-path="url(#clipb)">
<line x1="1235.0" y1="467.8" x2="2030.0" y2="245.0" stroke="#b0b0b0" stroke-width="1.2" stroke-dasharray="4.6 2.2"/>
<line x1="1235" y1="244.5" x2="2030" y2="244.5" stroke="#000" stroke-width="1.6"/>
<line x1="1370.7" y1="175.0" x2="1834.7" y2="175.0" stroke="#d6cc8e" stroke-width="3.6"/>
<line x1="1602.8" y1="48.8" x2="1602.8" y2="300.3" stroke="#d6cc8e" stroke-width="3.4"/>
<line x1="1628.5" y1="168.4" x2="2004.8" y2="168.4" stroke="#02856c" stroke-width="3.6"/>
<line x1="1816.7" y1="66.2" x2="1816.7" y2="270.5" stroke="#02856c" stroke-width="3.4"/>
<line x1="1828.6" y1="238.2" x2="1944.7" y2="238.2" stroke="#5c2002" stroke-width="3.6"/>
<line x1="1703.0" y1="141.7" x2="1703.0" y2="334.2" stroke="#5c2002" stroke-width="3.4"/>
<line x1="1102.5" y1="238.2" x2="1833.4" y2="238.2" stroke="#ab660d" stroke-width="3.6"/>
<line x1="1425.3" y1="141.7" x2="1425.3" y2="334.2" stroke="#ab660d" stroke-width="3.4"/>
<circle cx="1602.8" cy="175.0" r="9" fill="#d6cc8e"/>
<circle cx="1816.7" cy="168.4" r="9" fill="#02856c"/>
<circle cx="1703.0" cy="238.2" r="9" fill="#5c2002"/>
<circle cx="1425.3" cy="238.2" r="9" fill="#ab660d"/>
</g>
<rect x="1235" y="22.2" width="795" height="445.6" fill="none" stroke="#000" stroke-width="2.1"/>
<line x1="1225.9" y1="467.8" x2="1235" y2="467.8" stroke="#000" stroke-width="2.1"/>
<text x="1216.8" y="477.5" text-anchor="end" font-size="26.5">−3</text>
<line x1="1225.9" y1="393.5" x2="1235" y2="393.5" stroke="#000" stroke-width="2.1"/>
<text x="1216.8" y="403.2" text-anchor="end" font-size="26.5">−2</text>
<line x1="1225.9" y1="319.3" x2="1235" y2="319.3" stroke="#000" stroke-width="2.1"/>
<text x="1216.8" y="329.0" text-anchor="end" font-size="26.5">−1</text>
<line x1="1225.9" y1="245.0" x2="1235" y2="245.0" stroke="#000" stroke-width="2.1"/>
<text x="1216.8" y="254.7" text-anchor="end" font-size="26.5">0</text>
<line x1="1225.9" y1="170.7" x2="1235" y2="170.7" stroke="#000" stroke-width="2.1"/>
<text x="1216.8" y="180.4" text-anchor="end" font-size="26.5">1</text>
<line x1="1225.9" y1="96.5" x2="1235" y2="96.5" stroke="#000" stroke-width="2.1"/>
<text x="1216.8" y="106.2" text-anchor="end" font-size="26.5">2</text>
<line x1="1225.9" y1="22.2" x2="1235" y2="22.2" stroke="#000" stroke-width="2.1"/>
<text x="1216.8" y="31.9" text-anchor="end" font-size="26.5">3</text>
<line x1="1235.0" y1="467.8" x2="1235.0" y2="476.90000000000003" stroke="#000" stroke-width="2.1"/>
<text x="1235.0" y="505.6" text-anchor="middle" font-size="26.5">−3.0</text>
<line x1="1367.5" y1="467.8" x2="1367.5" y2="476.90000000000003" stroke="#000" stroke-width="2.1"/>
<text x="1367.5" y="505.6" text-anchor="middle" font-size="26.5">−2.5</text>
<line x1="1500.0" y1="467.8" x2="1500.0" y2="476.90000000000003" stroke="#000" stroke-width="2.1"/>
<text x="1500.0" y="505.6" text-anchor="middle" font-size="26.5">−2.0</text>
<line x1="1632.5" y1="467.8" x2="1632.5" y2="476.90000000000003" stroke="#000" stroke-width="2.1"/>
<text x="1632.5" y="505.6" text-anchor="middle" font-size="26.5">−1.5</text>
<line x1="1765.0" y1="467.8" x2="1765.0" y2="476.90000000000003" stroke="#000" stroke-width="2.1"/>
<text x="1765.0" y="505.6" text-anchor="middle" font-size="26.5">−1.0</text>
<line x1="1897.5" y1="467.8" x2="1897.5" y2="476.90000000000003" stroke="#000" stroke-width="2.1"/>
<text x="1897.5" y="505.6" text-anchor="middle" font-size="26.5">−0.5</text>
<line x1="2030.0" y1="467.8" x2="2030.0" y2="476.90000000000003" stroke="#000" stroke-width="2.1"/>
<text x="2030.0" y="505.6" text-anchor="middle" font-size="26.5">0.0</text>
<text x="1245.5" y="60.7" style="font-family:'Liberation Sans',sans-serif;font-size:37px">(b)</text>
<text x="1581" y="544.3" font-size="25.5"><tspan style="font-style:italic">GPP</tspan><tspan font-size="18" dy="-10.5" dx="1" style="font-style:italic">DH</tspan><tspan font-size="18">18</tspan><tspan font-size="18" dy="17.5" dx="-52.5" style="font-style:italic">anom</tspan></text>
<text transform="translate(1160,296.4) rotate(-90)" font-size="25.5"><tspan style="font-style:italic">GPP</tspan><tspan font-size="18" dy="-10.5" dx="1" style="font-style:italic">DH</tspan><tspan font-size="18">19</tspan><tspan font-size="18" dy="17.5" dx="-52.5" style="font-style:italic">anom</tspan></text>
<defs><clipPath id="clipc"><rect x="1235" y="556.7" width="795" height="445.4"/></clipPath></defs>
<g clip-path="url(#clipc)">
<line x1="1235.0" y1="1002.1" x2="2030.0" y2="779.4" stroke="#b0b0b0" stroke-width="1.2" stroke-dasharray="4.6 2.2"/>
<line x1="1293.0" y1="834.1" x2="1758.4" y2="834.1" stroke="#5c2002" stroke-width="3.6"/>
<line x1="1526.0" y1="738.1" x2="1526.0" y2="930.2" stroke="#5c2002" stroke-width="3.4"/>
<line x1="1182.0" y1="845.8" x2="1547.7" y2="845.8" stroke="#ab660d" stroke-width="3.6"/>
<line x1="1365.4" y1="753.0" x2="1365.4" y2="938.3" stroke="#ab660d" stroke-width="3.4"/>
<line x1="1208.5" y1="780.1" x2="1618.7" y2="780.1" stroke="#d6cc8e" stroke-width="3.6"/>
<line x1="1415.5" y1="656.9" x2="1415.5" y2="903.4" stroke="#d6cc8e" stroke-width="3.4"/>
<line x1="1299.7" y1="789.9" x2="1782.2" y2="789.9" stroke="#02856c" stroke-width="3.6"/>
<line x1="1540.8" y1="691.9" x2="1540.8" y2="887.0" stroke="#02856c" stroke-width="3.4"/>
<line x1="1235" y1="778.9" x2="2030" y2="778.9" stroke="#000" stroke-width="1.6"/>
<circle cx="1526.0" cy="834.1" r="9" fill="#5c2002"/>
<circle cx="1365.4" cy="845.8" r="9" fill="#ab660d"/>
<circle cx="1415.5" cy="780.1" r="9" fill="#d6cc8e"/>
<circle cx="1540.8" cy="789.9" r="9" fill="#02856c"/>
</g>
<rect x="1235" y="556.7" width="795" height="445.4" fill="none" stroke="#000" stroke-width="2.1"/>
<line x1="1225.9" y1="1002.1" x2="1235" y2="1002.1" stroke="#000" stroke-width="2.1"/>
<text x="1216.8" y="1011.8" text-anchor="end" font-size="26.5">−3</text>
<line x1="1225.9" y1="927.9" x2="1235" y2="927.9" stroke="#000" stroke-width="2.1"/>
<text x="1216.8" y="937.6" text-anchor="end" font-size="26.5">−2</text>
<line x1="1225.9" y1="853.6" x2="1235" y2="853.6" stroke="#000" stroke-width="2.1"/>
<text x="1216.8" y="863.3" text-anchor="end" font-size="26.5">−1</text>
<line x1="1225.9" y1="779.4" x2="1235" y2="779.4" stroke="#000" stroke-width="2.1"/>
<text x="1216.8" y="789.1" text-anchor="end" font-size="26.5">0</text>
<line x1="1225.9" y1="705.2" x2="1235" y2="705.2" stroke="#000" stroke-width="2.1"/>
<text x="1216.8" y="714.9" text-anchor="end" font-size="26.5">1</text>
<line x1="1225.9" y1="630.9" x2="1235" y2="630.9" stroke="#000" stroke-width="2.1"/>
<text x="1216.8" y="640.6" text-anchor="end" font-size="26.5">2</text>
<line x1="1225.9" y1="556.7" x2="1235" y2="556.7" stroke="#000" stroke-width="2.1"/>
<text x="1216.8" y="566.4" text-anchor="end" font-size="26.5">3</text>
<line x1="1235.0" y1="1002.1" x2="1235.0" y2="1011.2" stroke="#000" stroke-width="2.1"/>
<text x="1235.0" y="1039.9" text-anchor="middle" font-size="26.5">−3.0</text>
<line x1="1367.5" y1="1002.1" x2="1367.5" y2="1011.2" stroke="#000" stroke-width="2.1"/>
<text x="1367.5" y="1039.9" text-anchor="middle" font-size="26.5">−2.5</text>
<line x1="1500.0" y1="1002.1" x2="1500.0" y2="1011.2" stroke="#000" stroke-width="2.1"/>
<text x="1500.0" y="1039.9" text-anchor="middle" font-size="26.5">−2.0</text>
<line x1="1632.5" y1="1002.1" x2="1632.5" y2="1011.2" stroke="#000" stroke-width="2.1"/>
<text x="1632.5" y="1039.9" text-anchor="middle" font-size="26.5">−1.5</text>
<line x1="1765.0" y1="1002.1" x2="1765.0" y2="1011.2" stroke="#000" stroke-width="2.1"/>
<text x="1765.0" y="1039.9" text-anchor="middle" font-size="26.5">−1.0</text>
<line x1="1897.5" y1="1002.1" x2="1897.5" y2="1011.2" stroke="#000" stroke-width="2.1"/>
<text x="1897.5" y="1039.9" text-anchor="middle" font-size="26.5">−0.5</text>
<line x1="2030.0" y1="1002.1" x2="2030.0" y2="1011.2" stroke="#000" stroke-width="2.1"/>
<text x="2030.0" y="1039.9" text-anchor="middle" font-size="26.5">0.0</text>
<text x="1245.5" y="596.8" style="font-family:'Liberation Sans',sans-serif;font-size:37px">(c)</text>
<text x="1632.5" y="1075.3" text-anchor="middle" font-size="25.5"><tspan style="font-style:italic">SMDH</tspan><tspan>18</tspan><tspan font-size="18" dy="4" style="font-style:italic">anom</tspan></text>
<text transform="translate(1160,825.8) rotate(-90)" font-size="25.5"><tspan style="font-style:italic">SM</tspan><tspan font-size="18" dy="-10.5" dx="1" style="font-style:italic">DH</tspan><tspan font-size="18">19</tspan><tspan font-size="18" dy="17.5" dx="-52.5" style="font-style:italic">anom</tspan></text>
</svg></body></html>
